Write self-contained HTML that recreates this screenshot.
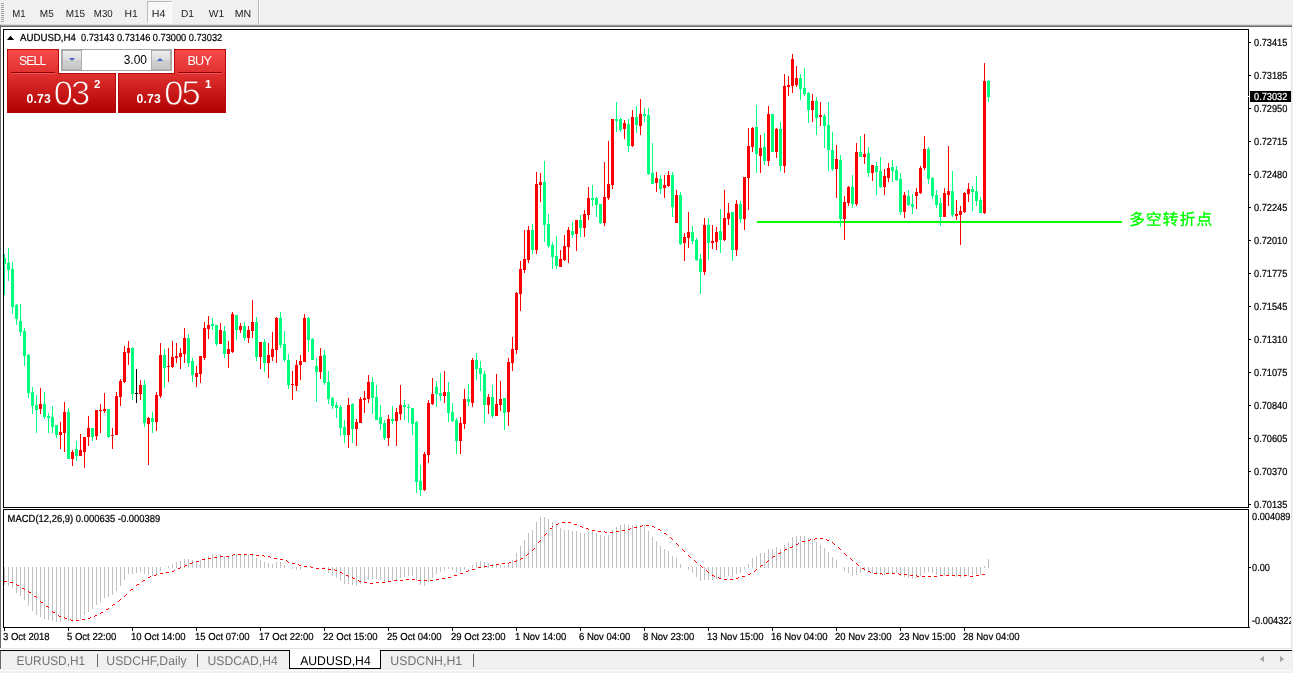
<!DOCTYPE html>
<html><head><meta charset="utf-8"><title>AUDUSD,H4</title>
<style>
html,body{margin:0;padding:0}
body{width:1293px;height:673px;overflow:hidden;background:#fff;font-family:"Liberation Sans","Noto Sans CJK SC",sans-serif;position:relative}
#tb{position:absolute;left:0;top:0;width:1293px;height:25px;background:#f0f0f0}
#tb i{position:absolute;left:1px;width:3px;height:1px;background:#a0a0a0}
.tf{position:absolute;top:8px;font-size:10px;line-height:12px;color:#222;letter-spacing:-0.3px}
#h4{position:absolute;left:147px;top:1px;width:25px;height:22px;border:1px solid #b9b9b9;border-bottom-color:#fdfdfd;border-right-color:#fdfdfd;background:#f7f7f7;box-sizing:border-box}
#sep{position:absolute;left:258px;top:0;width:1px;height:25px;background:#b8b8b8;border-right:1px solid #fff}
#edge{position:absolute;left:0;top:24px;width:1292px;height:3px;background:linear-gradient(#dcdcdc 0,#dcdcdc 33%,#a0a0a0 33%,#a0a0a0 66%,#696969 66%)}
#rgut{position:absolute;left:1292px;top:25px;width:1px;height:648px;background:#f0f0f0}
#ledge{position:absolute;left:0;top:25px;width:1px;height:623px;background:#696969}
#ledge2{position:absolute;left:0;top:651px;width:1px;height:18px;background:#696969}
#redge{position:absolute;left:1291px;top:27px;width:1px;height:621px;background:#e3e3e3}
#bot{position:absolute;left:0;top:648px;width:1293px;height:25px;background:#f0f0f0;border-top:1px solid #e3e3e3;box-sizing:border-box}
#botline{position:absolute;left:0;top:650px;width:1293px;height:1px;background:#000}
#botw{position:absolute;left:0;top:649px;width:1293px;height:1px;background:#fff}
#bots{position:absolute;left:0;top:670px;width:1293px;height:1px;background:#fcfcfc}
.tab{position:absolute;top:654px;font-size:12px;line-height:14px;color:#757575;letter-spacing:-0.1px}
.tab.act{color:#000}
#atab{position:absolute;left:289px;top:650px;width:92px;height:19px;background:#fff;border:1px solid #000;border-top:none;box-sizing:border-box}
.vs{position:absolute;top:654px;width:1px;height:13px;background:#666}
.arr{position:absolute;top:655.5px;width:0;height:0;border-top:3.5px solid transparent;border-bottom:3.5px solid transparent}
svg text{font-family:"Liberation Sans","Noto Sans CJK SC",sans-serif;text-rendering:geometricPrecision}
.rp{position:absolute;background:linear-gradient(#f74a4a,#d82626 45%,#b00000);border:1px solid #b40808;box-sizing:border-box}
.rt{position:absolute;color:#fff;white-space:nowrap}
.big{top:72.5px;font-size:34.5px;line-height:40px;letter-spacing:-1.9px;-webkit-text-stroke:0.9px #c81a1a;margin-left:-0.8px;transform:scaleY(1.03);transform-origin:0 32.2px}
#spin{position:absolute;left:61px;top:49px;width:111px;height:22px;border:1px solid #a8a8a8;background:#fff;box-sizing:border-box}
.sb{position:absolute;top:0;width:20px;height:20px;background:linear-gradient(#ececec,#dcdcdc 50%,#cfcfcf 51%,#c8c8c8);border:1px solid #aeaeae;box-sizing:border-box}
</style></head><body>
<div id="tb"><i style="top:3px"></i><i style="top:5px"></i><i style="top:7px"></i><i style="top:9px"></i><i style="top:11px"></i><i style="top:13px"></i><i style="top:15px"></i><i style="top:17px"></i><i style="top:19px"></i><i style="top:21px"></i><div id="h4"></div><div id="sep"></div></div>
<div id="edge"></div><div id="ledge"></div><div id="redge"></div>
<svg width="1293" height="673" viewBox="0 0 1293 673" style="position:absolute;left:0;top:0">
<g shape-rendering="crispEdges">
<rect x="3.5" y="29.5" width="1245" height="478" fill="#fff" stroke="#000" stroke-width="1"/>
<rect x="3.5" y="509.5" width="1245" height="118" fill="#fff" stroke="#000" stroke-width="1"/>
<rect x="1249" y="42" width="2" height="1" fill="#000"/>
<rect x="1249" y="75" width="2" height="1" fill="#000"/>
<rect x="1249" y="108" width="2" height="1" fill="#000"/>
<rect x="1249" y="141" width="2" height="1" fill="#000"/>
<rect x="1249" y="174" width="2" height="1" fill="#000"/>
<rect x="1249" y="207" width="2" height="1" fill="#000"/>
<rect x="1249" y="240" width="2" height="1" fill="#000"/>
<rect x="1249" y="273" width="2" height="1" fill="#000"/>
<rect x="1249" y="306" width="2" height="1" fill="#000"/>
<rect x="1249" y="339" width="2" height="1" fill="#000"/>
<rect x="1249" y="372" width="2" height="1" fill="#000"/>
<rect x="1249" y="405" width="2" height="1" fill="#000"/>
<rect x="1249" y="438" width="2" height="1" fill="#000"/>
<rect x="1249" y="471" width="2" height="1" fill="#000"/>
<rect x="1249" y="504" width="2" height="1" fill="#000"/>
<rect x="1249" y="567" width="2" height="1" fill="#000"/>
<rect x="1249" y="627" width="1" height="1" fill="#000"/>
<rect x="4" y="628" width="1" height="3" fill="#000"/>
<rect x="68" y="628" width="1" height="3" fill="#000"/>
<rect x="132" y="628" width="1" height="3" fill="#000"/>
<rect x="196" y="628" width="1" height="3" fill="#000"/>
<rect x="260" y="628" width="1" height="3" fill="#000"/>
<rect x="324" y="628" width="1" height="3" fill="#000"/>
<rect x="388" y="628" width="1" height="3" fill="#000"/>
<rect x="452" y="628" width="1" height="3" fill="#000"/>
<rect x="516" y="628" width="1" height="3" fill="#000"/>
<rect x="580" y="628" width="1" height="3" fill="#000"/>
<rect x="644" y="628" width="1" height="3" fill="#000"/>
<rect x="708" y="628" width="1" height="3" fill="#000"/>
<rect x="772" y="628" width="1" height="3" fill="#000"/>
<rect x="836" y="628" width="1" height="3" fill="#000"/>
<rect x="900" y="628" width="1" height="3" fill="#000"/>
<rect x="964" y="628" width="1" height="3" fill="#000"/>
<rect x="4" y="567" width="1" height="18" fill="#c0c0c0"/>
<rect x="8" y="567" width="1" height="19" fill="#c0c0c0"/>
<rect x="12" y="567" width="1" height="21" fill="#c0c0c0"/>
<rect x="16" y="567" width="1" height="26" fill="#c0c0c0"/>
<rect x="20" y="567" width="1" height="29" fill="#c0c0c0"/>
<rect x="24" y="567" width="1" height="33" fill="#c0c0c0"/>
<rect x="28" y="567" width="1" height="39" fill="#c0c0c0"/>
<rect x="32" y="567" width="1" height="44" fill="#c0c0c0"/>
<rect x="36" y="567" width="1" height="48" fill="#c0c0c0"/>
<rect x="40" y="567" width="1" height="50" fill="#c0c0c0"/>
<rect x="44" y="567" width="1" height="52" fill="#c0c0c0"/>
<rect x="48" y="567" width="1" height="53" fill="#c0c0c0"/>
<rect x="52" y="567" width="1" height="54" fill="#c0c0c0"/>
<rect x="56" y="567" width="1" height="55" fill="#c0c0c0"/>
<rect x="60" y="567" width="1" height="55" fill="#c0c0c0"/>
<rect x="64" y="567" width="1" height="53" fill="#c0c0c0"/>
<rect x="68" y="567" width="1" height="54" fill="#c0c0c0"/>
<rect x="72" y="567" width="1" height="55" fill="#c0c0c0"/>
<rect x="76" y="567" width="1" height="54" fill="#c0c0c0"/>
<rect x="80" y="567" width="1" height="52" fill="#c0c0c0"/>
<rect x="84" y="567" width="1" height="48" fill="#c0c0c0"/>
<rect x="88" y="567" width="1" height="45" fill="#c0c0c0"/>
<rect x="92" y="567" width="1" height="42" fill="#c0c0c0"/>
<rect x="96" y="567" width="1" height="38" fill="#c0c0c0"/>
<rect x="100" y="567" width="1" height="35" fill="#c0c0c0"/>
<rect x="104" y="567" width="1" height="31" fill="#c0c0c0"/>
<rect x="108" y="567" width="1" height="30" fill="#c0c0c0"/>
<rect x="112" y="567" width="1" height="28" fill="#c0c0c0"/>
<rect x="116" y="567" width="1" height="24" fill="#c0c0c0"/>
<rect x="120" y="567" width="1" height="19" fill="#c0c0c0"/>
<rect x="124" y="567" width="1" height="13" fill="#c0c0c0"/>
<rect x="128" y="567" width="1" height="7" fill="#c0c0c0"/>
<rect x="132" y="567" width="1" height="7" fill="#c0c0c0"/>
<rect x="136" y="567" width="1" height="6" fill="#c0c0c0"/>
<rect x="140" y="567" width="1" height="5" fill="#c0c0c0"/>
<rect x="144" y="567" width="1" height="7" fill="#c0c0c0"/>
<rect x="148" y="567" width="1" height="8" fill="#c0c0c0"/>
<rect x="152" y="567" width="1" height="9" fill="#c0c0c0"/>
<rect x="156" y="567" width="1" height="7" fill="#c0c0c0"/>
<rect x="160" y="567" width="1" height="4" fill="#c0c0c0"/>
<rect x="168" y="566" width="1" height="2" fill="#c0c0c0"/>
<rect x="172" y="564" width="1" height="4" fill="#c0c0c0"/>
<rect x="176" y="562" width="1" height="6" fill="#c0c0c0"/>
<rect x="180" y="561" width="1" height="7" fill="#c0c0c0"/>
<rect x="184" y="559" width="1" height="9" fill="#c0c0c0"/>
<rect x="188" y="559" width="1" height="9" fill="#c0c0c0"/>
<rect x="192" y="560" width="1" height="8" fill="#c0c0c0"/>
<rect x="196" y="561" width="1" height="7" fill="#c0c0c0"/>
<rect x="200" y="560" width="1" height="8" fill="#c0c0c0"/>
<rect x="204" y="558" width="1" height="10" fill="#c0c0c0"/>
<rect x="208" y="556" width="1" height="12" fill="#c0c0c0"/>
<rect x="212" y="554" width="1" height="14" fill="#c0c0c0"/>
<rect x="216" y="555" width="1" height="13" fill="#c0c0c0"/>
<rect x="220" y="554" width="1" height="14" fill="#c0c0c0"/>
<rect x="224" y="556" width="1" height="12" fill="#c0c0c0"/>
<rect x="228" y="557" width="1" height="11" fill="#c0c0c0"/>
<rect x="232" y="555" width="1" height="13" fill="#c0c0c0"/>
<rect x="236" y="554" width="1" height="14" fill="#c0c0c0"/>
<rect x="240" y="555" width="1" height="13" fill="#c0c0c0"/>
<rect x="244" y="555" width="1" height="13" fill="#c0c0c0"/>
<rect x="248" y="555" width="1" height="13" fill="#c0c0c0"/>
<rect x="252" y="555" width="1" height="13" fill="#c0c0c0"/>
<rect x="256" y="558" width="1" height="10" fill="#c0c0c0"/>
<rect x="260" y="560" width="1" height="8" fill="#c0c0c0"/>
<rect x="264" y="562" width="1" height="6" fill="#c0c0c0"/>
<rect x="268" y="563" width="1" height="5" fill="#c0c0c0"/>
<rect x="272" y="564" width="1" height="4" fill="#c0c0c0"/>
<rect x="276" y="562" width="1" height="6" fill="#c0c0c0"/>
<rect x="280" y="562" width="1" height="6" fill="#c0c0c0"/>
<rect x="284" y="565" width="1" height="3" fill="#c0c0c0"/>
<rect x="292" y="567" width="1" height="2" fill="#c0c0c0"/>
<rect x="296" y="567" width="1" height="3" fill="#c0c0c0"/>
<rect x="300" y="567" width="1" height="3" fill="#c0c0c0"/>
<rect x="324" y="567" width="1" height="2" fill="#c0c0c0"/>
<rect x="328" y="567" width="1" height="6" fill="#c0c0c0"/>
<rect x="332" y="567" width="1" height="9" fill="#c0c0c0"/>
<rect x="336" y="567" width="1" height="11" fill="#c0c0c0"/>
<rect x="340" y="567" width="1" height="14" fill="#c0c0c0"/>
<rect x="344" y="567" width="1" height="17" fill="#c0c0c0"/>
<rect x="348" y="567" width="1" height="17" fill="#c0c0c0"/>
<rect x="352" y="567" width="1" height="18" fill="#c0c0c0"/>
<rect x="356" y="567" width="1" height="19" fill="#c0c0c0"/>
<rect x="360" y="567" width="1" height="17" fill="#c0c0c0"/>
<rect x="364" y="567" width="1" height="15" fill="#c0c0c0"/>
<rect x="368" y="567" width="1" height="13" fill="#c0c0c0"/>
<rect x="372" y="567" width="1" height="12" fill="#c0c0c0"/>
<rect x="376" y="567" width="1" height="12" fill="#c0c0c0"/>
<rect x="380" y="567" width="1" height="13" fill="#c0c0c0"/>
<rect x="384" y="567" width="1" height="15" fill="#c0c0c0"/>
<rect x="388" y="567" width="1" height="15" fill="#c0c0c0"/>
<rect x="392" y="567" width="1" height="14" fill="#c0c0c0"/>
<rect x="396" y="567" width="1" height="13" fill="#c0c0c0"/>
<rect x="400" y="567" width="1" height="11" fill="#c0c0c0"/>
<rect x="404" y="567" width="1" height="10" fill="#c0c0c0"/>
<rect x="408" y="567" width="1" height="9" fill="#c0c0c0"/>
<rect x="412" y="567" width="1" height="9" fill="#c0c0c0"/>
<rect x="416" y="567" width="1" height="14" fill="#c0c0c0"/>
<rect x="420" y="567" width="1" height="18" fill="#c0c0c0"/>
<rect x="424" y="567" width="1" height="19" fill="#c0c0c0"/>
<rect x="428" y="567" width="1" height="15" fill="#c0c0c0"/>
<rect x="432" y="567" width="1" height="11" fill="#c0c0c0"/>
<rect x="436" y="567" width="1" height="7" fill="#c0c0c0"/>
<rect x="440" y="567" width="1" height="5" fill="#c0c0c0"/>
<rect x="444" y="567" width="1" height="3" fill="#c0c0c0"/>
<rect x="448" y="567" width="1" height="2" fill="#c0c0c0"/>
<rect x="452" y="567" width="1" height="3" fill="#c0c0c0"/>
<rect x="456" y="567" width="1" height="5" fill="#c0c0c0"/>
<rect x="460" y="567" width="1" height="5" fill="#c0c0c0"/>
<rect x="464" y="567" width="1" height="3" fill="#c0c0c0"/>
<rect x="472" y="565" width="1" height="3" fill="#c0c0c0"/>
<rect x="476" y="562" width="1" height="6" fill="#c0c0c0"/>
<rect x="480" y="561" width="1" height="7" fill="#c0c0c0"/>
<rect x="484" y="562" width="1" height="6" fill="#c0c0c0"/>
<rect x="488" y="563" width="1" height="5" fill="#c0c0c0"/>
<rect x="492" y="564" width="1" height="4" fill="#c0c0c0"/>
<rect x="496" y="565" width="1" height="3" fill="#c0c0c0"/>
<rect x="500" y="565" width="1" height="3" fill="#c0c0c0"/>
<rect x="504" y="566" width="1" height="2" fill="#c0c0c0"/>
<rect x="508" y="563" width="1" height="5" fill="#c0c0c0"/>
<rect x="512" y="560" width="1" height="8" fill="#c0c0c0"/>
<rect x="516" y="553" width="1" height="15" fill="#c0c0c0"/>
<rect x="520" y="546" width="1" height="22" fill="#c0c0c0"/>
<rect x="524" y="540" width="1" height="28" fill="#c0c0c0"/>
<rect x="528" y="533" width="1" height="35" fill="#c0c0c0"/>
<rect x="532" y="530" width="1" height="38" fill="#c0c0c0"/>
<rect x="536" y="522" width="1" height="46" fill="#c0c0c0"/>
<rect x="540" y="517" width="1" height="51" fill="#c0c0c0"/>
<rect x="544" y="517" width="1" height="51" fill="#c0c0c0"/>
<rect x="548" y="519" width="1" height="49" fill="#c0c0c0"/>
<rect x="552" y="522" width="1" height="46" fill="#c0c0c0"/>
<rect x="556" y="525" width="1" height="43" fill="#c0c0c0"/>
<rect x="560" y="528" width="1" height="40" fill="#c0c0c0"/>
<rect x="564" y="530" width="1" height="38" fill="#c0c0c0"/>
<rect x="568" y="530" width="1" height="38" fill="#c0c0c0"/>
<rect x="572" y="531" width="1" height="37" fill="#c0c0c0"/>
<rect x="576" y="531" width="1" height="37" fill="#c0c0c0"/>
<rect x="580" y="533" width="1" height="35" fill="#c0c0c0"/>
<rect x="584" y="533" width="1" height="35" fill="#c0c0c0"/>
<rect x="588" y="532" width="1" height="36" fill="#c0c0c0"/>
<rect x="592" y="531" width="1" height="37" fill="#c0c0c0"/>
<rect x="596" y="533" width="1" height="35" fill="#c0c0c0"/>
<rect x="600" y="535" width="1" height="33" fill="#c0c0c0"/>
<rect x="604" y="536" width="1" height="32" fill="#c0c0c0"/>
<rect x="608" y="535" width="1" height="33" fill="#c0c0c0"/>
<rect x="612" y="530" width="1" height="38" fill="#c0c0c0"/>
<rect x="616" y="527" width="1" height="41" fill="#c0c0c0"/>
<rect x="620" y="525" width="1" height="43" fill="#c0c0c0"/>
<rect x="624" y="524" width="1" height="44" fill="#c0c0c0"/>
<rect x="628" y="525" width="1" height="43" fill="#c0c0c0"/>
<rect x="632" y="525" width="1" height="43" fill="#c0c0c0"/>
<rect x="636" y="525" width="1" height="43" fill="#c0c0c0"/>
<rect x="640" y="525" width="1" height="43" fill="#c0c0c0"/>
<rect x="644" y="525" width="1" height="43" fill="#c0c0c0"/>
<rect x="648" y="531" width="1" height="37" fill="#c0c0c0"/>
<rect x="652" y="537" width="1" height="31" fill="#c0c0c0"/>
<rect x="656" y="541" width="1" height="27" fill="#c0c0c0"/>
<rect x="660" y="546" width="1" height="22" fill="#c0c0c0"/>
<rect x="664" y="549" width="1" height="19" fill="#c0c0c0"/>
<rect x="668" y="551" width="1" height="17" fill="#c0c0c0"/>
<rect x="672" y="556" width="1" height="12" fill="#c0c0c0"/>
<rect x="676" y="558" width="1" height="10" fill="#c0c0c0"/>
<rect x="680" y="564" width="1" height="4" fill="#c0c0c0"/>
<rect x="688" y="567" width="1" height="3" fill="#c0c0c0"/>
<rect x="692" y="567" width="1" height="6" fill="#c0c0c0"/>
<rect x="696" y="567" width="1" height="10" fill="#c0c0c0"/>
<rect x="700" y="567" width="1" height="14" fill="#c0c0c0"/>
<rect x="704" y="567" width="1" height="13" fill="#c0c0c0"/>
<rect x="708" y="567" width="1" height="13" fill="#c0c0c0"/>
<rect x="712" y="567" width="1" height="13" fill="#c0c0c0"/>
<rect x="716" y="567" width="1" height="12" fill="#c0c0c0"/>
<rect x="720" y="567" width="1" height="11" fill="#c0c0c0"/>
<rect x="724" y="567" width="1" height="10" fill="#c0c0c0"/>
<rect x="728" y="567" width="1" height="9" fill="#c0c0c0"/>
<rect x="732" y="567" width="1" height="10" fill="#c0c0c0"/>
<rect x="736" y="567" width="1" height="7" fill="#c0c0c0"/>
<rect x="740" y="567" width="1" height="6" fill="#c0c0c0"/>
<rect x="744" y="567" width="1" height="2" fill="#c0c0c0"/>
<rect x="748" y="564" width="1" height="4" fill="#c0c0c0"/>
<rect x="752" y="558" width="1" height="10" fill="#c0c0c0"/>
<rect x="756" y="556" width="1" height="12" fill="#c0c0c0"/>
<rect x="760" y="553" width="1" height="15" fill="#c0c0c0"/>
<rect x="764" y="553" width="1" height="15" fill="#c0c0c0"/>
<rect x="768" y="549" width="1" height="19" fill="#c0c0c0"/>
<rect x="772" y="549" width="1" height="19" fill="#c0c0c0"/>
<rect x="776" y="547" width="1" height="21" fill="#c0c0c0"/>
<rect x="780" y="549" width="1" height="19" fill="#c0c0c0"/>
<rect x="784" y="545" width="1" height="23" fill="#c0c0c0"/>
<rect x="788" y="542" width="1" height="26" fill="#c0c0c0"/>
<rect x="792" y="537" width="1" height="31" fill="#c0c0c0"/>
<rect x="796" y="536" width="1" height="32" fill="#c0c0c0"/>
<rect x="800" y="536" width="1" height="32" fill="#c0c0c0"/>
<rect x="804" y="536" width="1" height="32" fill="#c0c0c0"/>
<rect x="808" y="538" width="1" height="30" fill="#c0c0c0"/>
<rect x="812" y="539" width="1" height="29" fill="#c0c0c0"/>
<rect x="816" y="542" width="1" height="26" fill="#c0c0c0"/>
<rect x="820" y="545" width="1" height="23" fill="#c0c0c0"/>
<rect x="824" y="548" width="1" height="20" fill="#c0c0c0"/>
<rect x="828" y="552" width="1" height="16" fill="#c0c0c0"/>
<rect x="832" y="557" width="1" height="11" fill="#c0c0c0"/>
<rect x="836" y="560" width="1" height="8" fill="#c0c0c0"/>
<rect x="844" y="567" width="1" height="4" fill="#c0c0c0"/>
<rect x="848" y="567" width="1" height="6" fill="#c0c0c0"/>
<rect x="852" y="567" width="1" height="9" fill="#c0c0c0"/>
<rect x="856" y="567" width="1" height="8" fill="#c0c0c0"/>
<rect x="860" y="567" width="1" height="6" fill="#c0c0c0"/>
<rect x="864" y="567" width="1" height="4" fill="#c0c0c0"/>
<rect x="868" y="567" width="1" height="6" fill="#c0c0c0"/>
<rect x="872" y="567" width="1" height="6" fill="#c0c0c0"/>
<rect x="876" y="567" width="1" height="7" fill="#c0c0c0"/>
<rect x="880" y="567" width="1" height="8" fill="#c0c0c0"/>
<rect x="884" y="567" width="1" height="8" fill="#c0c0c0"/>
<rect x="888" y="567" width="1" height="7" fill="#c0c0c0"/>
<rect x="892" y="567" width="1" height="6" fill="#c0c0c0"/>
<rect x="896" y="567" width="1" height="6" fill="#c0c0c0"/>
<rect x="900" y="567" width="1" height="9" fill="#c0c0c0"/>
<rect x="904" y="567" width="1" height="10" fill="#c0c0c0"/>
<rect x="908" y="567" width="1" height="11" fill="#c0c0c0"/>
<rect x="912" y="567" width="1" height="12" fill="#c0c0c0"/>
<rect x="916" y="567" width="1" height="11" fill="#c0c0c0"/>
<rect x="920" y="567" width="1" height="9" fill="#c0c0c0"/>
<rect x="924" y="567" width="1" height="6" fill="#c0c0c0"/>
<rect x="928" y="567" width="1" height="5" fill="#c0c0c0"/>
<rect x="932" y="567" width="1" height="6" fill="#c0c0c0"/>
<rect x="936" y="567" width="1" height="8" fill="#c0c0c0"/>
<rect x="940" y="567" width="1" height="9" fill="#c0c0c0"/>
<rect x="944" y="567" width="1" height="9" fill="#c0c0c0"/>
<rect x="948" y="567" width="1" height="8" fill="#c0c0c0"/>
<rect x="952" y="567" width="1" height="9" fill="#c0c0c0"/>
<rect x="956" y="567" width="1" height="10" fill="#c0c0c0"/>
<rect x="960" y="567" width="1" height="11" fill="#c0c0c0"/>
<rect x="964" y="567" width="1" height="10" fill="#c0c0c0"/>
<rect x="968" y="567" width="1" height="9" fill="#c0c0c0"/>
<rect x="972" y="567" width="1" height="8" fill="#c0c0c0"/>
<rect x="976" y="567" width="1" height="7" fill="#c0c0c0"/>
<rect x="980" y="567" width="1" height="8" fill="#c0c0c0"/>
<rect x="984" y="566" width="1" height="2" fill="#c0c0c0"/>
<rect x="988" y="559" width="1" height="9" fill="#c0c0c0"/>
<clipPath id="cp"><rect x="4" y="30" width="1244" height="477"/></clipPath><g clip-path="url(#cp)">
<rect x="757" y="221" width="365" height="2" fill="#00ff00"/>
<rect x="4" y="254" width="1" height="41" fill="#00ff7f"/>
<rect x="3" y="258" width="3" height="6" fill="#00ff7f"/>
<rect x="8" y="248" width="1" height="33" fill="#00ff7f"/>
<rect x="7" y="263" width="3" height="7" fill="#00ff7f"/>
<rect x="12" y="262" width="1" height="52" fill="#00ff7f"/>
<rect x="11" y="269" width="3" height="38" fill="#00ff7f"/>
<rect x="16" y="304" width="1" height="21" fill="#00ff7f"/>
<rect x="15" y="305" width="3" height="14" fill="#00ff7f"/>
<rect x="20" y="304" width="1" height="32" fill="#00ff7f"/>
<rect x="19" y="321" width="3" height="11" fill="#00ff7f"/>
<rect x="24" y="328" width="1" height="38" fill="#00ff7f"/>
<rect x="23" y="331" width="3" height="25" fill="#00ff7f"/>
<rect x="28" y="354" width="1" height="44" fill="#00ff7f"/>
<rect x="27" y="355" width="3" height="38" fill="#00ff7f"/>
<rect x="32" y="387" width="1" height="27" fill="#00ff7f"/>
<rect x="31" y="392" width="3" height="14" fill="#00ff7f"/>
<rect x="36" y="395" width="1" height="38" fill="#00ff7f"/>
<rect x="35" y="405" width="3" height="5" fill="#00ff7f"/>
<rect x="40" y="388" width="1" height="26" fill="#ff0000"/>
<rect x="39" y="404" width="3" height="5" fill="#ff0000"/>
<rect x="44" y="392" width="1" height="27" fill="#00ff7f"/>
<rect x="43" y="404" width="3" height="13" fill="#00ff7f"/>
<rect x="48" y="413" width="1" height="20" fill="#00ff7f"/>
<rect x="47" y="416" width="3" height="2" fill="#00ff7f"/>
<rect x="52" y="406" width="1" height="27" fill="#00ff7f"/>
<rect x="51" y="417" width="3" height="10" fill="#00ff7f"/>
<rect x="56" y="425" width="1" height="13" fill="#00ff7f"/>
<rect x="55" y="425" width="3" height="10" fill="#00ff7f"/>
<rect x="60" y="422" width="1" height="27" fill="#ff0000"/>
<rect x="59" y="432" width="3" height="3" fill="#ff0000"/>
<rect x="64" y="402" width="1" height="50" fill="#ff0000"/>
<rect x="63" y="412" width="3" height="21" fill="#ff0000"/>
<rect x="68" y="408" width="1" height="51" fill="#00ff7f"/>
<rect x="67" y="412" width="3" height="47" fill="#00ff7f"/>
<rect x="72" y="450" width="1" height="16" fill="#ff0000"/>
<rect x="71" y="452" width="3" height="7" fill="#ff0000"/>
<rect x="76" y="441" width="1" height="20" fill="#00ff7f"/>
<rect x="75" y="449" width="3" height="7" fill="#00ff7f"/>
<rect x="80" y="434" width="1" height="22" fill="#ff0000"/>
<rect x="79" y="450" width="3" height="6" fill="#ff0000"/>
<rect x="84" y="437" width="1" height="31" fill="#ff0000"/>
<rect x="83" y="437" width="3" height="15" fill="#ff0000"/>
<rect x="88" y="416" width="1" height="30" fill="#ff0000"/>
<rect x="87" y="428" width="3" height="9" fill="#ff0000"/>
<rect x="92" y="428" width="1" height="13" fill="#00ff7f"/>
<rect x="91" y="428" width="3" height="9" fill="#00ff7f"/>
<rect x="96" y="410" width="1" height="30" fill="#ff0000"/>
<rect x="95" y="410" width="3" height="26" fill="#ff0000"/>
<rect x="100" y="404" width="1" height="29" fill="#ff0000"/>
<rect x="99" y="410" width="3" height="1" fill="#ff0000"/>
<rect x="104" y="393" width="1" height="20" fill="#ff0000"/>
<rect x="103" y="409" width="3" height="2" fill="#ff0000"/>
<rect x="108" y="409" width="1" height="29" fill="#00ff7f"/>
<rect x="107" y="409" width="3" height="28" fill="#00ff7f"/>
<rect x="112" y="428" width="1" height="21" fill="#ff0000"/>
<rect x="111" y="435" width="3" height="1" fill="#ff0000"/>
<rect x="116" y="392" width="1" height="43" fill="#ff0000"/>
<rect x="115" y="396" width="3" height="39" fill="#ff0000"/>
<rect x="120" y="379" width="1" height="27" fill="#ff0000"/>
<rect x="119" y="381" width="3" height="16" fill="#ff0000"/>
<rect x="124" y="346" width="1" height="37" fill="#ff0000"/>
<rect x="123" y="352" width="3" height="30" fill="#ff0000"/>
<rect x="128" y="341" width="1" height="24" fill="#ff0000"/>
<rect x="127" y="348" width="3" height="5" fill="#ff0000"/>
<rect x="132" y="347" width="1" height="53" fill="#00ff7f"/>
<rect x="131" y="348" width="3" height="46" fill="#00ff7f"/>
<rect x="136" y="369" width="1" height="34" fill="#000"/>
<rect x="135" y="393" width="3" height="1" fill="#000"/>
<rect x="140" y="380" width="1" height="20" fill="#ff0000"/>
<rect x="139" y="385" width="3" height="9" fill="#ff0000"/>
<rect x="144" y="380" width="1" height="47" fill="#00ff7f"/>
<rect x="143" y="385" width="3" height="38" fill="#00ff7f"/>
<rect x="148" y="417" width="1" height="48" fill="#ff0000"/>
<rect x="147" y="418" width="3" height="6" fill="#ff0000"/>
<rect x="152" y="412" width="1" height="21" fill="#00ff7f"/>
<rect x="151" y="418" width="3" height="4" fill="#00ff7f"/>
<rect x="156" y="392" width="1" height="39" fill="#ff0000"/>
<rect x="155" y="395" width="3" height="27" fill="#ff0000"/>
<rect x="160" y="343" width="1" height="55" fill="#ff0000"/>
<rect x="159" y="355" width="3" height="41" fill="#ff0000"/>
<rect x="164" y="349" width="1" height="39" fill="#00ff7f"/>
<rect x="163" y="355" width="3" height="13" fill="#00ff7f"/>
<rect x="168" y="348" width="1" height="34" fill="#ff0000"/>
<rect x="167" y="366" width="3" height="1" fill="#ff0000"/>
<rect x="172" y="341" width="1" height="27" fill="#ff0000"/>
<rect x="171" y="357" width="3" height="10" fill="#ff0000"/>
<rect x="176" y="343" width="1" height="20" fill="#ff0000"/>
<rect x="175" y="356" width="3" height="2" fill="#ff0000"/>
<rect x="180" y="348" width="1" height="21" fill="#ff0000"/>
<rect x="179" y="353" width="3" height="4" fill="#ff0000"/>
<rect x="184" y="328" width="1" height="35" fill="#ff0000"/>
<rect x="183" y="338" width="3" height="16" fill="#ff0000"/>
<rect x="188" y="334" width="1" height="33" fill="#00ff7f"/>
<rect x="187" y="338" width="3" height="25" fill="#00ff7f"/>
<rect x="192" y="358" width="1" height="24" fill="#00ff7f"/>
<rect x="191" y="361" width="3" height="14" fill="#00ff7f"/>
<rect x="196" y="366" width="1" height="21" fill="#ff0000"/>
<rect x="195" y="373" width="3" height="4" fill="#ff0000"/>
<rect x="200" y="356" width="1" height="27" fill="#ff0000"/>
<rect x="199" y="356" width="3" height="18" fill="#ff0000"/>
<rect x="204" y="322" width="1" height="38" fill="#ff0000"/>
<rect x="203" y="328" width="3" height="30" fill="#ff0000"/>
<rect x="208" y="316" width="1" height="23" fill="#ff0000"/>
<rect x="207" y="325" width="3" height="4" fill="#ff0000"/>
<rect x="212" y="318" width="1" height="12" fill="#00ff7f"/>
<rect x="211" y="324" width="3" height="2" fill="#00ff7f"/>
<rect x="216" y="325" width="1" height="21" fill="#00ff7f"/>
<rect x="215" y="325" width="3" height="19" fill="#00ff7f"/>
<rect x="220" y="323" width="1" height="21" fill="#ff0000"/>
<rect x="219" y="330" width="3" height="14" fill="#ff0000"/>
<rect x="224" y="326" width="1" height="32" fill="#00ff7f"/>
<rect x="223" y="331" width="3" height="23" fill="#00ff7f"/>
<rect x="228" y="341" width="1" height="27" fill="#ff0000"/>
<rect x="227" y="349" width="3" height="5" fill="#ff0000"/>
<rect x="232" y="312" width="1" height="41" fill="#ff0000"/>
<rect x="231" y="314" width="3" height="38" fill="#ff0000"/>
<rect x="236" y="315" width="1" height="25" fill="#00ff7f"/>
<rect x="235" y="315" width="3" height="15" fill="#00ff7f"/>
<rect x="240" y="323" width="1" height="10" fill="#ff0000"/>
<rect x="239" y="326" width="3" height="4" fill="#ff0000"/>
<rect x="244" y="322" width="1" height="19" fill="#00ff7f"/>
<rect x="243" y="326" width="3" height="12" fill="#00ff7f"/>
<rect x="248" y="326" width="1" height="17" fill="#ff0000"/>
<rect x="247" y="330" width="3" height="8" fill="#ff0000"/>
<rect x="252" y="300" width="1" height="38" fill="#ff0000"/>
<rect x="251" y="322" width="3" height="9" fill="#ff0000"/>
<rect x="256" y="317" width="1" height="44" fill="#00ff7f"/>
<rect x="255" y="322" width="3" height="35" fill="#00ff7f"/>
<rect x="260" y="342" width="1" height="27" fill="#ff0000"/>
<rect x="259" y="342" width="3" height="15" fill="#ff0000"/>
<rect x="264" y="339" width="1" height="33" fill="#00ff7f"/>
<rect x="263" y="342" width="3" height="21" fill="#00ff7f"/>
<rect x="268" y="343" width="1" height="35" fill="#ff0000"/>
<rect x="267" y="355" width="3" height="8" fill="#ff0000"/>
<rect x="272" y="332" width="1" height="29" fill="#ff0000"/>
<rect x="271" y="349" width="3" height="8" fill="#ff0000"/>
<rect x="276" y="317" width="1" height="46" fill="#ff0000"/>
<rect x="275" y="318" width="3" height="32" fill="#ff0000"/>
<rect x="280" y="312" width="1" height="36" fill="#00ff7f"/>
<rect x="279" y="318" width="3" height="27" fill="#00ff7f"/>
<rect x="284" y="331" width="1" height="31" fill="#00ff7f"/>
<rect x="283" y="344" width="3" height="16" fill="#00ff7f"/>
<rect x="288" y="354" width="1" height="35" fill="#00ff7f"/>
<rect x="287" y="360" width="3" height="25" fill="#00ff7f"/>
<rect x="292" y="371" width="1" height="29" fill="#ff0000"/>
<rect x="291" y="384" width="3" height="1" fill="#ff0000"/>
<rect x="296" y="360" width="1" height="31" fill="#ff0000"/>
<rect x="295" y="365" width="3" height="21" fill="#ff0000"/>
<rect x="300" y="355" width="1" height="25" fill="#ff0000"/>
<rect x="299" y="361" width="3" height="4" fill="#ff0000"/>
<rect x="304" y="314" width="1" height="48" fill="#ff0000"/>
<rect x="303" y="318" width="3" height="44" fill="#ff0000"/>
<rect x="308" y="317" width="1" height="35" fill="#00ff7f"/>
<rect x="307" y="318" width="3" height="22" fill="#00ff7f"/>
<rect x="312" y="338" width="1" height="22" fill="#00ff7f"/>
<rect x="311" y="339" width="3" height="21" fill="#00ff7f"/>
<rect x="316" y="358" width="1" height="44" fill="#00ff7f"/>
<rect x="315" y="366" width="3" height="6" fill="#00ff7f"/>
<rect x="320" y="348" width="1" height="31" fill="#ff0000"/>
<rect x="319" y="356" width="3" height="16" fill="#ff0000"/>
<rect x="324" y="350" width="1" height="35" fill="#00ff7f"/>
<rect x="323" y="355" width="3" height="28" fill="#00ff7f"/>
<rect x="328" y="371" width="1" height="33" fill="#00ff7f"/>
<rect x="327" y="382" width="3" height="17" fill="#00ff7f"/>
<rect x="332" y="397" width="1" height="12" fill="#00ff7f"/>
<rect x="331" y="398" width="3" height="8" fill="#00ff7f"/>
<rect x="336" y="402" width="1" height="16" fill="#00ff7f"/>
<rect x="335" y="405" width="3" height="3" fill="#00ff7f"/>
<rect x="340" y="405" width="1" height="31" fill="#00ff7f"/>
<rect x="339" y="407" width="3" height="21" fill="#00ff7f"/>
<rect x="344" y="420" width="1" height="23" fill="#00ff7f"/>
<rect x="343" y="427" width="3" height="8" fill="#00ff7f"/>
<rect x="348" y="398" width="1" height="50" fill="#ff0000"/>
<rect x="347" y="405" width="3" height="30" fill="#ff0000"/>
<rect x="352" y="403" width="1" height="40" fill="#00ff7f"/>
<rect x="351" y="404" width="3" height="25" fill="#00ff7f"/>
<rect x="356" y="419" width="1" height="27" fill="#ff0000"/>
<rect x="355" y="422" width="3" height="7" fill="#ff0000"/>
<rect x="360" y="397" width="1" height="26" fill="#ff0000"/>
<rect x="359" y="399" width="3" height="24" fill="#ff0000"/>
<rect x="364" y="391" width="1" height="22" fill="#ff0000"/>
<rect x="363" y="398" width="3" height="2" fill="#ff0000"/>
<rect x="368" y="375" width="1" height="28" fill="#ff0000"/>
<rect x="367" y="382" width="3" height="17" fill="#ff0000"/>
<rect x="372" y="377" width="1" height="37" fill="#00ff7f"/>
<rect x="371" y="382" width="3" height="16" fill="#00ff7f"/>
<rect x="376" y="385" width="1" height="35" fill="#00ff7f"/>
<rect x="375" y="397" width="3" height="23" fill="#00ff7f"/>
<rect x="380" y="405" width="1" height="25" fill="#00ff7f"/>
<rect x="379" y="417" width="3" height="7" fill="#00ff7f"/>
<rect x="384" y="420" width="1" height="20" fill="#00ff7f"/>
<rect x="383" y="423" width="3" height="15" fill="#00ff7f"/>
<rect x="388" y="415" width="1" height="31" fill="#ff0000"/>
<rect x="387" y="419" width="3" height="19" fill="#ff0000"/>
<rect x="392" y="406" width="1" height="18" fill="#00ff7f"/>
<rect x="391" y="419" width="3" height="2" fill="#00ff7f"/>
<rect x="396" y="408" width="1" height="38" fill="#ff0000"/>
<rect x="395" y="412" width="3" height="9" fill="#ff0000"/>
<rect x="400" y="385" width="1" height="35" fill="#ff0000"/>
<rect x="399" y="405" width="3" height="9" fill="#ff0000"/>
<rect x="404" y="400" width="1" height="20" fill="#00ff7f"/>
<rect x="403" y="405" width="3" height="2" fill="#00ff7f"/>
<rect x="408" y="404" width="1" height="19" fill="#00ff7f"/>
<rect x="407" y="407" width="3" height="1" fill="#00ff7f"/>
<rect x="412" y="408" width="1" height="27" fill="#00ff7f"/>
<rect x="411" y="408" width="3" height="16" fill="#00ff7f"/>
<rect x="416" y="421" width="1" height="72" fill="#00ff7f"/>
<rect x="415" y="422" width="3" height="60" fill="#00ff7f"/>
<rect x="420" y="465" width="1" height="31" fill="#00ff7f"/>
<rect x="419" y="481" width="3" height="9" fill="#00ff7f"/>
<rect x="424" y="452" width="1" height="39" fill="#ff0000"/>
<rect x="423" y="454" width="3" height="36" fill="#ff0000"/>
<rect x="428" y="400" width="1" height="63" fill="#ff0000"/>
<rect x="427" y="403" width="3" height="52" fill="#ff0000"/>
<rect x="432" y="378" width="1" height="27" fill="#ff0000"/>
<rect x="431" y="394" width="3" height="10" fill="#ff0000"/>
<rect x="436" y="381" width="1" height="26" fill="#00ff7f"/>
<rect x="435" y="387" width="3" height="7" fill="#00ff7f"/>
<rect x="440" y="373" width="1" height="28" fill="#00ff7f"/>
<rect x="439" y="393" width="3" height="3" fill="#00ff7f"/>
<rect x="444" y="371" width="1" height="32" fill="#ff0000"/>
<rect x="443" y="392" width="3" height="4" fill="#ff0000"/>
<rect x="448" y="382" width="1" height="40" fill="#00ff7f"/>
<rect x="447" y="392" width="3" height="21" fill="#00ff7f"/>
<rect x="452" y="403" width="1" height="19" fill="#00ff7f"/>
<rect x="451" y="412" width="3" height="9" fill="#00ff7f"/>
<rect x="456" y="418" width="1" height="36" fill="#00ff7f"/>
<rect x="455" y="420" width="3" height="21" fill="#00ff7f"/>
<rect x="460" y="417" width="1" height="37" fill="#ff0000"/>
<rect x="459" y="423" width="3" height="18" fill="#ff0000"/>
<rect x="464" y="389" width="1" height="40" fill="#ff0000"/>
<rect x="463" y="399" width="3" height="25" fill="#ff0000"/>
<rect x="468" y="384" width="1" height="22" fill="#00ff7f"/>
<rect x="467" y="399" width="3" height="3" fill="#00ff7f"/>
<rect x="472" y="358" width="1" height="49" fill="#ff0000"/>
<rect x="471" y="360" width="3" height="43" fill="#ff0000"/>
<rect x="476" y="353" width="1" height="27" fill="#00ff7f"/>
<rect x="475" y="360" width="3" height="9" fill="#00ff7f"/>
<rect x="480" y="361" width="1" height="30" fill="#00ff7f"/>
<rect x="479" y="368" width="3" height="6" fill="#00ff7f"/>
<rect x="484" y="371" width="1" height="52" fill="#00ff7f"/>
<rect x="483" y="374" width="3" height="31" fill="#00ff7f"/>
<rect x="488" y="394" width="1" height="20" fill="#ff0000"/>
<rect x="487" y="397" width="3" height="8" fill="#ff0000"/>
<rect x="492" y="385" width="1" height="33" fill="#00ff7f"/>
<rect x="491" y="397" width="3" height="19" fill="#00ff7f"/>
<rect x="496" y="374" width="1" height="42" fill="#ff0000"/>
<rect x="495" y="404" width="3" height="12" fill="#ff0000"/>
<rect x="500" y="381" width="1" height="30" fill="#ff0000"/>
<rect x="499" y="399" width="3" height="6" fill="#ff0000"/>
<rect x="504" y="398" width="1" height="32" fill="#00ff7f"/>
<rect x="503" y="398" width="3" height="15" fill="#00ff7f"/>
<rect x="508" y="358" width="1" height="68" fill="#ff0000"/>
<rect x="507" y="362" width="3" height="50" fill="#ff0000"/>
<rect x="512" y="337" width="1" height="34" fill="#ff0000"/>
<rect x="511" y="349" width="3" height="14" fill="#ff0000"/>
<rect x="516" y="292" width="1" height="62" fill="#ff0000"/>
<rect x="515" y="293" width="3" height="57" fill="#ff0000"/>
<rect x="520" y="261" width="1" height="50" fill="#ff0000"/>
<rect x="519" y="269" width="3" height="25" fill="#ff0000"/>
<rect x="524" y="230" width="1" height="43" fill="#ff0000"/>
<rect x="523" y="259" width="3" height="11" fill="#ff0000"/>
<rect x="528" y="226" width="1" height="37" fill="#ff0000"/>
<rect x="527" y="230" width="3" height="30" fill="#ff0000"/>
<rect x="532" y="224" width="1" height="30" fill="#00ff7f"/>
<rect x="531" y="230" width="3" height="20" fill="#00ff7f"/>
<rect x="536" y="172" width="1" height="82" fill="#ff0000"/>
<rect x="535" y="184" width="3" height="66" fill="#ff0000"/>
<rect x="540" y="173" width="1" height="29" fill="#ff0000"/>
<rect x="539" y="182" width="3" height="3" fill="#ff0000"/>
<rect x="544" y="161" width="1" height="81" fill="#00ff7f"/>
<rect x="543" y="182" width="3" height="43" fill="#00ff7f"/>
<rect x="548" y="214" width="1" height="34" fill="#00ff7f"/>
<rect x="547" y="224" width="3" height="22" fill="#00ff7f"/>
<rect x="552" y="242" width="1" height="27" fill="#00ff7f"/>
<rect x="551" y="245" width="3" height="12" fill="#00ff7f"/>
<rect x="556" y="236" width="1" height="33" fill="#00ff7f"/>
<rect x="555" y="256" width="3" height="10" fill="#00ff7f"/>
<rect x="560" y="250" width="1" height="17" fill="#ff0000"/>
<rect x="559" y="259" width="3" height="8" fill="#ff0000"/>
<rect x="564" y="235" width="1" height="26" fill="#ff0000"/>
<rect x="563" y="246" width="3" height="14" fill="#ff0000"/>
<rect x="568" y="227" width="1" height="36" fill="#ff0000"/>
<rect x="567" y="230" width="3" height="17" fill="#ff0000"/>
<rect x="572" y="222" width="1" height="16" fill="#00ff7f"/>
<rect x="571" y="231" width="3" height="4" fill="#00ff7f"/>
<rect x="576" y="220" width="1" height="31" fill="#ff0000"/>
<rect x="575" y="220" width="3" height="14" fill="#ff0000"/>
<rect x="580" y="215" width="1" height="22" fill="#00ff7f"/>
<rect x="579" y="220" width="3" height="8" fill="#00ff7f"/>
<rect x="584" y="210" width="1" height="27" fill="#ff0000"/>
<rect x="583" y="214" width="3" height="14" fill="#ff0000"/>
<rect x="588" y="187" width="1" height="33" fill="#ff0000"/>
<rect x="587" y="198" width="3" height="17" fill="#ff0000"/>
<rect x="592" y="185" width="1" height="21" fill="#00ff7f"/>
<rect x="591" y="198" width="3" height="2" fill="#00ff7f"/>
<rect x="596" y="197" width="1" height="20" fill="#00ff7f"/>
<rect x="595" y="198" width="3" height="7" fill="#00ff7f"/>
<rect x="600" y="204" width="1" height="20" fill="#00ff7f"/>
<rect x="599" y="204" width="3" height="19" fill="#00ff7f"/>
<rect x="604" y="162" width="1" height="64" fill="#ff0000"/>
<rect x="603" y="197" width="3" height="26" fill="#ff0000"/>
<rect x="608" y="141" width="1" height="59" fill="#ff0000"/>
<rect x="607" y="184" width="3" height="14" fill="#ff0000"/>
<rect x="612" y="119" width="1" height="70" fill="#ff0000"/>
<rect x="611" y="119" width="3" height="66" fill="#ff0000"/>
<rect x="616" y="102" width="1" height="30" fill="#00ff7f"/>
<rect x="615" y="119" width="3" height="2" fill="#00ff7f"/>
<rect x="620" y="118" width="1" height="14" fill="#00ff7f"/>
<rect x="619" y="119" width="3" height="11" fill="#00ff7f"/>
<rect x="624" y="120" width="1" height="19" fill="#ff0000"/>
<rect x="623" y="123" width="3" height="6" fill="#ff0000"/>
<rect x="628" y="119" width="1" height="33" fill="#00ff7f"/>
<rect x="627" y="124" width="3" height="22" fill="#00ff7f"/>
<rect x="632" y="110" width="1" height="37" fill="#ff0000"/>
<rect x="631" y="117" width="3" height="29" fill="#ff0000"/>
<rect x="636" y="106" width="1" height="27" fill="#00ff7f"/>
<rect x="635" y="117" width="3" height="8" fill="#00ff7f"/>
<rect x="640" y="99" width="1" height="36" fill="#ff0000"/>
<rect x="639" y="114" width="3" height="12" fill="#ff0000"/>
<rect x="644" y="108" width="1" height="14" fill="#00ff7f"/>
<rect x="643" y="114" width="3" height="2" fill="#00ff7f"/>
<rect x="648" y="108" width="1" height="67" fill="#00ff7f"/>
<rect x="647" y="115" width="3" height="59" fill="#00ff7f"/>
<rect x="652" y="143" width="1" height="41" fill="#00ff7f"/>
<rect x="651" y="173" width="3" height="11" fill="#00ff7f"/>
<rect x="656" y="172" width="1" height="20" fill="#ff0000"/>
<rect x="655" y="178" width="3" height="5" fill="#ff0000"/>
<rect x="660" y="175" width="1" height="19" fill="#00ff7f"/>
<rect x="659" y="179" width="3" height="10" fill="#00ff7f"/>
<rect x="664" y="175" width="1" height="23" fill="#ff0000"/>
<rect x="663" y="185" width="3" height="3" fill="#ff0000"/>
<rect x="668" y="171" width="1" height="16" fill="#ff0000"/>
<rect x="667" y="175" width="3" height="11" fill="#ff0000"/>
<rect x="672" y="172" width="1" height="45" fill="#00ff7f"/>
<rect x="671" y="175" width="3" height="32" fill="#00ff7f"/>
<rect x="676" y="190" width="1" height="33" fill="#ff0000"/>
<rect x="675" y="195" width="3" height="28" fill="#ff0000"/>
<rect x="680" y="192" width="1" height="53" fill="#00ff7f"/>
<rect x="679" y="195" width="3" height="49" fill="#00ff7f"/>
<rect x="684" y="233" width="1" height="28" fill="#ff0000"/>
<rect x="683" y="237" width="3" height="6" fill="#ff0000"/>
<rect x="688" y="212" width="1" height="36" fill="#ff0000"/>
<rect x="687" y="232" width="3" height="6" fill="#ff0000"/>
<rect x="692" y="226" width="1" height="18" fill="#00ff7f"/>
<rect x="691" y="232" width="3" height="9" fill="#00ff7f"/>
<rect x="696" y="238" width="1" height="23" fill="#00ff7f"/>
<rect x="695" y="240" width="3" height="20" fill="#00ff7f"/>
<rect x="700" y="254" width="1" height="40" fill="#00ff7f"/>
<rect x="699" y="259" width="3" height="13" fill="#00ff7f"/>
<rect x="704" y="218" width="1" height="57" fill="#ff0000"/>
<rect x="703" y="225" width="3" height="47" fill="#ff0000"/>
<rect x="708" y="218" width="1" height="42" fill="#00ff7f"/>
<rect x="707" y="225" width="3" height="18" fill="#00ff7f"/>
<rect x="712" y="225" width="1" height="24" fill="#ff0000"/>
<rect x="711" y="241" width="3" height="2" fill="#ff0000"/>
<rect x="716" y="227" width="1" height="23" fill="#ff0000"/>
<rect x="715" y="232" width="3" height="10" fill="#ff0000"/>
<rect x="720" y="209" width="1" height="44" fill="#00ff7f"/>
<rect x="719" y="231" width="3" height="9" fill="#00ff7f"/>
<rect x="724" y="190" width="1" height="51" fill="#ff0000"/>
<rect x="723" y="218" width="3" height="22" fill="#ff0000"/>
<rect x="728" y="203" width="1" height="22" fill="#ff0000"/>
<rect x="727" y="213" width="3" height="6" fill="#ff0000"/>
<rect x="732" y="212" width="1" height="49" fill="#00ff7f"/>
<rect x="731" y="212" width="3" height="38" fill="#00ff7f"/>
<rect x="736" y="200" width="1" height="56" fill="#ff0000"/>
<rect x="735" y="204" width="3" height="46" fill="#ff0000"/>
<rect x="740" y="201" width="1" height="22" fill="#00ff7f"/>
<rect x="739" y="204" width="3" height="15" fill="#00ff7f"/>
<rect x="744" y="177" width="1" height="53" fill="#ff0000"/>
<rect x="743" y="177" width="3" height="42" fill="#ff0000"/>
<rect x="748" y="128" width="1" height="82" fill="#ff0000"/>
<rect x="747" y="146" width="3" height="32" fill="#ff0000"/>
<rect x="752" y="127" width="1" height="25" fill="#ff0000"/>
<rect x="751" y="128" width="3" height="19" fill="#ff0000"/>
<rect x="756" y="105" width="1" height="68" fill="#00ff7f"/>
<rect x="755" y="127" width="3" height="27" fill="#00ff7f"/>
<rect x="760" y="135" width="1" height="38" fill="#ff0000"/>
<rect x="759" y="148" width="3" height="8" fill="#ff0000"/>
<rect x="764" y="133" width="1" height="32" fill="#00ff7f"/>
<rect x="763" y="147" width="3" height="14" fill="#00ff7f"/>
<rect x="768" y="106" width="1" height="60" fill="#ff0000"/>
<rect x="767" y="114" width="3" height="47" fill="#ff0000"/>
<rect x="772" y="114" width="1" height="38" fill="#00ff7f"/>
<rect x="771" y="114" width="3" height="38" fill="#00ff7f"/>
<rect x="776" y="128" width="1" height="30" fill="#ff0000"/>
<rect x="775" y="129" width="3" height="23" fill="#ff0000"/>
<rect x="780" y="122" width="1" height="49" fill="#00ff7f"/>
<rect x="779" y="129" width="3" height="37" fill="#00ff7f"/>
<rect x="784" y="74" width="1" height="99" fill="#ff0000"/>
<rect x="783" y="86" width="3" height="80" fill="#ff0000"/>
<rect x="788" y="76" width="1" height="20" fill="#ff0000"/>
<rect x="787" y="85" width="3" height="2" fill="#ff0000"/>
<rect x="792" y="54" width="1" height="39" fill="#ff0000"/>
<rect x="791" y="59" width="3" height="27" fill="#ff0000"/>
<rect x="796" y="66" width="1" height="21" fill="#ff0000"/>
<rect x="795" y="78" width="3" height="7" fill="#ff0000"/>
<rect x="800" y="74" width="1" height="26" fill="#00ff7f"/>
<rect x="799" y="78" width="3" height="11" fill="#00ff7f"/>
<rect x="804" y="68" width="1" height="28" fill="#00ff7f"/>
<rect x="803" y="88" width="3" height="6" fill="#00ff7f"/>
<rect x="808" y="92" width="1" height="31" fill="#00ff7f"/>
<rect x="807" y="93" width="3" height="17" fill="#00ff7f"/>
<rect x="812" y="94" width="1" height="28" fill="#ff0000"/>
<rect x="811" y="101" width="3" height="9" fill="#ff0000"/>
<rect x="816" y="97" width="1" height="38" fill="#00ff7f"/>
<rect x="815" y="101" width="3" height="17" fill="#00ff7f"/>
<rect x="820" y="102" width="1" height="24" fill="#ff0000"/>
<rect x="819" y="115" width="3" height="2" fill="#ff0000"/>
<rect x="824" y="114" width="1" height="34" fill="#00ff7f"/>
<rect x="823" y="116" width="3" height="10" fill="#00ff7f"/>
<rect x="828" y="102" width="1" height="69" fill="#00ff7f"/>
<rect x="827" y="125" width="3" height="25" fill="#00ff7f"/>
<rect x="832" y="132" width="1" height="39" fill="#00ff7f"/>
<rect x="831" y="150" width="3" height="19" fill="#00ff7f"/>
<rect x="836" y="145" width="1" height="53" fill="#ff0000"/>
<rect x="835" y="159" width="3" height="10" fill="#ff0000"/>
<rect x="840" y="155" width="1" height="72" fill="#00ff7f"/>
<rect x="839" y="160" width="3" height="59" fill="#00ff7f"/>
<rect x="844" y="196" width="1" height="44" fill="#ff0000"/>
<rect x="843" y="202" width="3" height="17" fill="#ff0000"/>
<rect x="848" y="186" width="1" height="20" fill="#ff0000"/>
<rect x="847" y="187" width="3" height="16" fill="#ff0000"/>
<rect x="852" y="175" width="1" height="33" fill="#00ff7f"/>
<rect x="851" y="187" width="3" height="17" fill="#00ff7f"/>
<rect x="856" y="143" width="1" height="63" fill="#ff0000"/>
<rect x="855" y="152" width="3" height="52" fill="#ff0000"/>
<rect x="860" y="136" width="1" height="21" fill="#00ff7f"/>
<rect x="859" y="152" width="3" height="5" fill="#00ff7f"/>
<rect x="864" y="134" width="1" height="30" fill="#ff0000"/>
<rect x="863" y="154" width="3" height="3" fill="#ff0000"/>
<rect x="868" y="147" width="1" height="30" fill="#00ff7f"/>
<rect x="867" y="153" width="3" height="20" fill="#00ff7f"/>
<rect x="872" y="165" width="1" height="16" fill="#ff0000"/>
<rect x="871" y="165" width="3" height="8" fill="#ff0000"/>
<rect x="876" y="162" width="1" height="33" fill="#00ff7f"/>
<rect x="875" y="166" width="3" height="6" fill="#00ff7f"/>
<rect x="880" y="157" width="1" height="31" fill="#00ff7f"/>
<rect x="879" y="171" width="3" height="16" fill="#00ff7f"/>
<rect x="884" y="169" width="1" height="26" fill="#ff0000"/>
<rect x="883" y="176" width="3" height="11" fill="#ff0000"/>
<rect x="888" y="163" width="1" height="19" fill="#ff0000"/>
<rect x="887" y="168" width="3" height="10" fill="#ff0000"/>
<rect x="892" y="160" width="1" height="22" fill="#00ff7f"/>
<rect x="891" y="167" width="3" height="4" fill="#00ff7f"/>
<rect x="896" y="166" width="1" height="15" fill="#00ff7f"/>
<rect x="895" y="170" width="3" height="10" fill="#00ff7f"/>
<rect x="900" y="173" width="1" height="42" fill="#00ff7f"/>
<rect x="899" y="179" width="3" height="33" fill="#00ff7f"/>
<rect x="904" y="192" width="1" height="26" fill="#ff0000"/>
<rect x="903" y="195" width="3" height="17" fill="#ff0000"/>
<rect x="908" y="190" width="1" height="16" fill="#00ff7f"/>
<rect x="907" y="196" width="3" height="9" fill="#00ff7f"/>
<rect x="912" y="194" width="1" height="20" fill="#00ff7f"/>
<rect x="911" y="204" width="3" height="3" fill="#00ff7f"/>
<rect x="916" y="188" width="1" height="21" fill="#ff0000"/>
<rect x="915" y="192" width="3" height="4" fill="#ff0000"/>
<rect x="920" y="166" width="1" height="28" fill="#ff0000"/>
<rect x="919" y="168" width="3" height="25" fill="#ff0000"/>
<rect x="924" y="136" width="1" height="34" fill="#ff0000"/>
<rect x="923" y="149" width="3" height="19" fill="#ff0000"/>
<rect x="928" y="147" width="1" height="37" fill="#00ff7f"/>
<rect x="927" y="149" width="3" height="30" fill="#00ff7f"/>
<rect x="932" y="177" width="1" height="22" fill="#00ff7f"/>
<rect x="931" y="178" width="3" height="18" fill="#00ff7f"/>
<rect x="936" y="190" width="1" height="18" fill="#00ff7f"/>
<rect x="935" y="195" width="3" height="10" fill="#00ff7f"/>
<rect x="940" y="198" width="1" height="28" fill="#00ff7f"/>
<rect x="939" y="203" width="3" height="14" fill="#00ff7f"/>
<rect x="944" y="188" width="1" height="29" fill="#ff0000"/>
<rect x="943" y="193" width="3" height="24" fill="#ff0000"/>
<rect x="948" y="146" width="1" height="60" fill="#ff0000"/>
<rect x="947" y="191" width="3" height="4" fill="#ff0000"/>
<rect x="952" y="171" width="1" height="46" fill="#00ff7f"/>
<rect x="951" y="191" width="3" height="24" fill="#00ff7f"/>
<rect x="956" y="200" width="1" height="20" fill="#ff0000"/>
<rect x="955" y="214" width="3" height="2" fill="#ff0000"/>
<rect x="960" y="206" width="1" height="39" fill="#ff0000"/>
<rect x="959" y="211" width="3" height="4" fill="#ff0000"/>
<rect x="964" y="192" width="1" height="21" fill="#ff0000"/>
<rect x="963" y="193" width="3" height="19" fill="#ff0000"/>
<rect x="968" y="183" width="1" height="19" fill="#ff0000"/>
<rect x="967" y="189" width="3" height="5" fill="#ff0000"/>
<rect x="972" y="186" width="1" height="25" fill="#00ff7f"/>
<rect x="971" y="189" width="3" height="3" fill="#00ff7f"/>
<rect x="976" y="176" width="1" height="30" fill="#00ff7f"/>
<rect x="975" y="191" width="3" height="10" fill="#00ff7f"/>
<rect x="980" y="197" width="1" height="16" fill="#00ff7f"/>
<rect x="979" y="200" width="3" height="13" fill="#00ff7f"/>
<rect x="984" y="63" width="1" height="151" fill="#ff0000"/>
<rect x="983" y="81" width="3" height="132" fill="#ff0000"/>
<rect x="988" y="80" width="1" height="22" fill="#00ff7f"/>
<rect x="987" y="81" width="3" height="16" fill="#00ff7f"/>
</g>
</g>
<g shape-rendering="crispEdges" fill="#ff0000">
<rect x="4" y="581" width="1" height="1"/>
<rect x="5" y="581" width="1" height="1"/>
<rect x="6" y="581" width="1" height="1"/>
<rect x="10" y="582" width="1" height="1"/>
<rect x="11" y="582" width="1" height="1"/>
<rect x="12" y="582" width="1" height="1"/>
<rect x="16" y="584" width="1" height="1"/>
<rect x="17" y="585" width="1" height="1"/>
<rect x="18" y="585" width="1" height="1"/>
<rect x="22" y="588" width="1" height="1"/>
<rect x="23" y="588" width="1" height="1"/>
<rect x="24" y="589" width="1" height="1"/>
<rect x="28" y="591" width="1" height="1"/>
<rect x="29" y="592" width="1" height="1"/>
<rect x="30" y="592" width="1" height="1"/>
<rect x="34" y="596" width="1" height="1"/>
<rect x="35" y="596" width="1" height="1"/>
<rect x="36" y="597" width="1" height="1"/>
<rect x="40" y="601" width="1" height="1"/>
<rect x="41" y="602" width="1" height="1"/>
<rect x="42" y="602" width="1" height="1"/>
<rect x="46" y="606" width="1" height="1"/>
<rect x="47" y="606" width="1" height="1"/>
<rect x="48" y="607" width="1" height="1"/>
<rect x="52" y="611" width="1" height="1"/>
<rect x="53" y="612" width="1" height="1"/>
<rect x="54" y="612" width="1" height="1"/>
<rect x="58" y="615" width="1" height="1"/>
<rect x="59" y="616" width="1" height="1"/>
<rect x="60" y="616" width="1" height="1"/>
<rect x="64" y="617" width="1" height="1"/>
<rect x="65" y="618" width="1" height="1"/>
<rect x="66" y="618" width="1" height="1"/>
<rect x="70" y="619" width="1" height="1"/>
<rect x="71" y="620" width="1" height="1"/>
<rect x="72" y="620" width="1" height="1"/>
<rect x="76" y="620" width="1" height="1"/>
<rect x="77" y="620" width="1" height="1"/>
<rect x="78" y="620" width="1" height="1"/>
<rect x="82" y="619" width="1" height="1"/>
<rect x="83" y="619" width="1" height="1"/>
<rect x="84" y="619" width="1" height="1"/>
<rect x="88" y="618" width="1" height="1"/>
<rect x="89" y="618" width="1" height="1"/>
<rect x="90" y="617" width="1" height="1"/>
<rect x="94" y="616" width="1" height="1"/>
<rect x="95" y="615" width="1" height="1"/>
<rect x="96" y="615" width="1" height="1"/>
<rect x="100" y="613" width="1" height="1"/>
<rect x="101" y="612" width="1" height="1"/>
<rect x="102" y="612" width="1" height="1"/>
<rect x="106" y="609" width="1" height="1"/>
<rect x="107" y="609" width="1" height="1"/>
<rect x="108" y="608" width="1" height="1"/>
<rect x="112" y="605" width="1" height="1"/>
<rect x="113" y="604" width="1" height="1"/>
<rect x="114" y="604" width="1" height="1"/>
<rect x="118" y="601" width="1" height="1"/>
<rect x="119" y="600" width="1" height="1"/>
<rect x="120" y="599" width="1" height="1"/>
<rect x="124" y="596" width="1" height="1"/>
<rect x="125" y="595" width="1" height="1"/>
<rect x="126" y="594" width="1" height="1"/>
<rect x="130" y="590" width="1" height="1"/>
<rect x="131" y="589" width="1" height="1"/>
<rect x="132" y="589" width="1" height="1"/>
<rect x="136" y="585" width="1" height="1"/>
<rect x="137" y="584" width="1" height="1"/>
<rect x="138" y="584" width="1" height="1"/>
<rect x="142" y="581" width="1" height="1"/>
<rect x="143" y="580" width="1" height="1"/>
<rect x="144" y="580" width="1" height="1"/>
<rect x="148" y="577" width="1" height="1"/>
<rect x="149" y="577" width="1" height="1"/>
<rect x="150" y="576" width="1" height="1"/>
<rect x="154" y="575" width="1" height="1"/>
<rect x="155" y="575" width="1" height="1"/>
<rect x="156" y="574" width="1" height="1"/>
<rect x="160" y="573" width="1" height="1"/>
<rect x="161" y="573" width="1" height="1"/>
<rect x="162" y="573" width="1" height="1"/>
<rect x="166" y="572" width="1" height="1"/>
<rect x="167" y="572" width="1" height="1"/>
<rect x="168" y="572" width="1" height="1"/>
<rect x="172" y="571" width="1" height="1"/>
<rect x="173" y="571" width="1" height="1"/>
<rect x="174" y="570" width="1" height="1"/>
<rect x="178" y="568" width="1" height="1"/>
<rect x="179" y="568" width="1" height="1"/>
<rect x="180" y="567" width="1" height="1"/>
<rect x="184" y="566" width="1" height="1"/>
<rect x="185" y="565" width="1" height="1"/>
<rect x="186" y="565" width="1" height="1"/>
<rect x="190" y="563" width="1" height="1"/>
<rect x="191" y="563" width="1" height="1"/>
<rect x="192" y="562" width="1" height="1"/>
<rect x="196" y="561" width="1" height="1"/>
<rect x="197" y="561" width="1" height="1"/>
<rect x="198" y="561" width="1" height="1"/>
<rect x="202" y="559" width="1" height="1"/>
<rect x="203" y="559" width="1" height="1"/>
<rect x="204" y="559" width="1" height="1"/>
<rect x="208" y="558" width="1" height="1"/>
<rect x="209" y="558" width="1" height="1"/>
<rect x="210" y="558" width="1" height="1"/>
<rect x="214" y="557" width="1" height="1"/>
<rect x="215" y="557" width="1" height="1"/>
<rect x="216" y="557" width="1" height="1"/>
<rect x="220" y="556" width="1" height="1"/>
<rect x="221" y="556" width="1" height="1"/>
<rect x="222" y="556" width="1" height="1"/>
<rect x="226" y="556" width="1" height="1"/>
<rect x="227" y="556" width="1" height="1"/>
<rect x="228" y="556" width="1" height="1"/>
<rect x="232" y="555" width="1" height="1"/>
<rect x="233" y="554" width="1" height="1"/>
<rect x="234" y="554" width="1" height="1"/>
<rect x="238" y="554" width="1" height="1"/>
<rect x="239" y="554" width="1" height="1"/>
<rect x="240" y="554" width="1" height="1"/>
<rect x="244" y="554" width="1" height="1"/>
<rect x="245" y="554" width="1" height="1"/>
<rect x="246" y="554" width="1" height="1"/>
<rect x="250" y="554" width="1" height="1"/>
<rect x="251" y="554" width="1" height="1"/>
<rect x="252" y="554" width="1" height="1"/>
<rect x="256" y="555" width="1" height="1"/>
<rect x="257" y="555" width="1" height="1"/>
<rect x="258" y="555" width="1" height="1"/>
<rect x="262" y="555" width="1" height="1"/>
<rect x="263" y="555" width="1" height="1"/>
<rect x="264" y="556" width="1" height="1"/>
<rect x="268" y="556" width="1" height="1"/>
<rect x="269" y="556" width="1" height="1"/>
<rect x="270" y="557" width="1" height="1"/>
<rect x="274" y="558" width="1" height="1"/>
<rect x="275" y="558" width="1" height="1"/>
<rect x="276" y="558" width="1" height="1"/>
<rect x="280" y="559" width="1" height="1"/>
<rect x="281" y="559" width="1" height="1"/>
<rect x="282" y="559" width="1" height="1"/>
<rect x="286" y="560" width="1" height="1"/>
<rect x="287" y="561" width="1" height="1"/>
<rect x="288" y="562" width="1" height="1"/>
<rect x="292" y="563" width="1" height="1"/>
<rect x="293" y="563" width="1" height="1"/>
<rect x="294" y="563" width="1" height="1"/>
<rect x="298" y="564" width="1" height="1"/>
<rect x="299" y="565" width="1" height="1"/>
<rect x="300" y="565" width="1" height="1"/>
<rect x="304" y="566" width="1" height="1"/>
<rect x="305" y="566" width="1" height="1"/>
<rect x="306" y="566" width="1" height="1"/>
<rect x="310" y="566" width="1" height="1"/>
<rect x="311" y="567" width="1" height="1"/>
<rect x="312" y="567" width="1" height="1"/>
<rect x="316" y="568" width="1" height="1"/>
<rect x="317" y="568" width="1" height="1"/>
<rect x="318" y="568" width="1" height="1"/>
<rect x="322" y="568" width="1" height="1"/>
<rect x="323" y="568" width="1" height="1"/>
<rect x="324" y="568" width="1" height="1"/>
<rect x="328" y="569" width="1" height="1"/>
<rect x="329" y="569" width="1" height="1"/>
<rect x="330" y="569" width="1" height="1"/>
<rect x="334" y="569" width="1" height="1"/>
<rect x="335" y="570" width="1" height="1"/>
<rect x="336" y="570" width="1" height="1"/>
<rect x="340" y="572" width="1" height="1"/>
<rect x="341" y="572" width="1" height="1"/>
<rect x="342" y="573" width="1" height="1"/>
<rect x="346" y="575" width="1" height="1"/>
<rect x="347" y="575" width="1" height="1"/>
<rect x="348" y="576" width="1" height="1"/>
<rect x="352" y="577" width="1" height="1"/>
<rect x="353" y="578" width="1" height="1"/>
<rect x="354" y="578" width="1" height="1"/>
<rect x="358" y="580" width="1" height="1"/>
<rect x="359" y="581" width="1" height="1"/>
<rect x="360" y="581" width="1" height="1"/>
<rect x="364" y="582" width="1" height="1"/>
<rect x="365" y="582" width="1" height="1"/>
<rect x="366" y="582" width="1" height="1"/>
<rect x="370" y="583" width="1" height="1"/>
<rect x="371" y="583" width="1" height="1"/>
<rect x="372" y="583" width="1" height="1"/>
<rect x="376" y="582" width="1" height="1"/>
<rect x="377" y="582" width="1" height="1"/>
<rect x="378" y="582" width="1" height="1"/>
<rect x="382" y="582" width="1" height="1"/>
<rect x="383" y="582" width="1" height="1"/>
<rect x="384" y="582" width="1" height="1"/>
<rect x="388" y="581" width="1" height="1"/>
<rect x="389" y="581" width="1" height="1"/>
<rect x="390" y="581" width="1" height="1"/>
<rect x="394" y="580" width="1" height="1"/>
<rect x="395" y="580" width="1" height="1"/>
<rect x="396" y="580" width="1" height="1"/>
<rect x="400" y="580" width="1" height="1"/>
<rect x="401" y="580" width="1" height="1"/>
<rect x="402" y="580" width="1" height="1"/>
<rect x="406" y="579" width="1" height="1"/>
<rect x="407" y="579" width="1" height="1"/>
<rect x="408" y="579" width="1" height="1"/>
<rect x="412" y="579" width="1" height="1"/>
<rect x="413" y="579" width="1" height="1"/>
<rect x="414" y="579" width="1" height="1"/>
<rect x="418" y="580" width="1" height="1"/>
<rect x="419" y="580" width="1" height="1"/>
<rect x="420" y="580" width="1" height="1"/>
<rect x="424" y="580" width="1" height="1"/>
<rect x="425" y="580" width="1" height="1"/>
<rect x="426" y="580" width="1" height="1"/>
<rect x="430" y="580" width="1" height="1"/>
<rect x="431" y="580" width="1" height="1"/>
<rect x="432" y="580" width="1" height="1"/>
<rect x="436" y="579" width="1" height="1"/>
<rect x="437" y="579" width="1" height="1"/>
<rect x="438" y="579" width="1" height="1"/>
<rect x="442" y="578" width="1" height="1"/>
<rect x="443" y="578" width="1" height="1"/>
<rect x="444" y="578" width="1" height="1"/>
<rect x="448" y="577" width="1" height="1"/>
<rect x="449" y="577" width="1" height="1"/>
<rect x="450" y="577" width="1" height="1"/>
<rect x="454" y="575" width="1" height="1"/>
<rect x="455" y="575" width="1" height="1"/>
<rect x="456" y="575" width="1" height="1"/>
<rect x="460" y="573" width="1" height="1"/>
<rect x="461" y="573" width="1" height="1"/>
<rect x="462" y="573" width="1" height="1"/>
<rect x="466" y="571" width="1" height="1"/>
<rect x="467" y="571" width="1" height="1"/>
<rect x="468" y="570" width="1" height="1"/>
<rect x="472" y="569" width="1" height="1"/>
<rect x="473" y="569" width="1" height="1"/>
<rect x="474" y="569" width="1" height="1"/>
<rect x="478" y="567" width="1" height="1"/>
<rect x="479" y="567" width="1" height="1"/>
<rect x="480" y="567" width="1" height="1"/>
<rect x="484" y="566" width="1" height="1"/>
<rect x="485" y="566" width="1" height="1"/>
<rect x="486" y="566" width="1" height="1"/>
<rect x="490" y="565" width="1" height="1"/>
<rect x="491" y="565" width="1" height="1"/>
<rect x="492" y="565" width="1" height="1"/>
<rect x="496" y="564" width="1" height="1"/>
<rect x="497" y="564" width="1" height="1"/>
<rect x="498" y="564" width="1" height="1"/>
<rect x="502" y="563" width="1" height="1"/>
<rect x="503" y="563" width="1" height="1"/>
<rect x="504" y="563" width="1" height="1"/>
<rect x="508" y="563" width="1" height="1"/>
<rect x="509" y="562" width="1" height="1"/>
<rect x="510" y="562" width="1" height="1"/>
<rect x="514" y="561" width="1" height="1"/>
<rect x="515" y="561" width="1" height="1"/>
<rect x="516" y="560" width="1" height="1"/>
<rect x="520" y="559" width="1" height="1"/>
<rect x="521" y="558" width="1" height="1"/>
<rect x="522" y="558" width="1" height="1"/>
<rect x="526" y="555" width="1" height="1"/>
<rect x="527" y="554" width="1" height="1"/>
<rect x="528" y="553" width="1" height="1"/>
<rect x="532" y="550" width="1" height="1"/>
<rect x="533" y="549" width="1" height="1"/>
<rect x="534" y="548" width="1" height="1"/>
<rect x="538" y="542" width="1" height="1"/>
<rect x="539" y="541" width="1" height="1"/>
<rect x="540" y="540" width="1" height="1"/>
<rect x="544" y="535" width="1" height="1"/>
<rect x="545" y="534" width="1" height="1"/>
<rect x="546" y="533" width="1" height="1"/>
<rect x="550" y="528" width="1" height="1"/>
<rect x="551" y="528" width="1" height="1"/>
<rect x="552" y="526" width="1" height="1"/>
<rect x="556" y="524" width="1" height="1"/>
<rect x="557" y="524" width="1" height="1"/>
<rect x="558" y="523" width="1" height="1"/>
<rect x="562" y="522" width="1" height="1"/>
<rect x="563" y="522" width="1" height="1"/>
<rect x="564" y="522" width="1" height="1"/>
<rect x="568" y="522" width="1" height="1"/>
<rect x="569" y="522" width="1" height="1"/>
<rect x="570" y="522" width="1" height="1"/>
<rect x="574" y="524" width="1" height="1"/>
<rect x="575" y="524" width="1" height="1"/>
<rect x="576" y="524" width="1" height="1"/>
<rect x="580" y="526" width="1" height="1"/>
<rect x="581" y="526" width="1" height="1"/>
<rect x="582" y="527" width="1" height="1"/>
<rect x="586" y="528" width="1" height="1"/>
<rect x="587" y="528" width="1" height="1"/>
<rect x="588" y="529" width="1" height="1"/>
<rect x="592" y="530" width="1" height="1"/>
<rect x="593" y="530" width="1" height="1"/>
<rect x="594" y="530" width="1" height="1"/>
<rect x="598" y="531" width="1" height="1"/>
<rect x="599" y="531" width="1" height="1"/>
<rect x="600" y="531" width="1" height="1"/>
<rect x="604" y="531" width="1" height="1"/>
<rect x="605" y="532" width="1" height="1"/>
<rect x="606" y="532" width="1" height="1"/>
<rect x="610" y="532" width="1" height="1"/>
<rect x="611" y="532" width="1" height="1"/>
<rect x="612" y="532" width="1" height="1"/>
<rect x="616" y="531" width="1" height="1"/>
<rect x="617" y="531" width="1" height="1"/>
<rect x="618" y="531" width="1" height="1"/>
<rect x="622" y="530" width="1" height="1"/>
<rect x="623" y="530" width="1" height="1"/>
<rect x="624" y="530" width="1" height="1"/>
<rect x="628" y="529" width="1" height="1"/>
<rect x="629" y="529" width="1" height="1"/>
<rect x="630" y="528" width="1" height="1"/>
<rect x="634" y="527" width="1" height="1"/>
<rect x="635" y="527" width="1" height="1"/>
<rect x="636" y="527" width="1" height="1"/>
<rect x="640" y="526" width="1" height="1"/>
<rect x="641" y="526" width="1" height="1"/>
<rect x="642" y="525" width="1" height="1"/>
<rect x="646" y="525" width="1" height="1"/>
<rect x="647" y="525" width="1" height="1"/>
<rect x="648" y="525" width="1" height="1"/>
<rect x="652" y="526" width="1" height="1"/>
<rect x="653" y="526" width="1" height="1"/>
<rect x="654" y="527" width="1" height="1"/>
<rect x="658" y="529" width="1" height="1"/>
<rect x="659" y="529" width="1" height="1"/>
<rect x="660" y="530" width="1" height="1"/>
<rect x="664" y="533" width="1" height="1"/>
<rect x="665" y="533" width="1" height="1"/>
<rect x="666" y="534" width="1" height="1"/>
<rect x="670" y="537" width="1" height="1"/>
<rect x="671" y="538" width="1" height="1"/>
<rect x="672" y="539" width="1" height="1"/>
<rect x="676" y="543" width="1" height="1"/>
<rect x="677" y="544" width="1" height="1"/>
<rect x="678" y="545" width="1" height="1"/>
<rect x="682" y="549" width="1" height="1"/>
<rect x="683" y="550" width="1" height="1"/>
<rect x="684" y="551" width="1" height="1"/>
<rect x="688" y="555" width="1" height="1"/>
<rect x="689" y="556" width="1" height="1"/>
<rect x="690" y="557" width="1" height="1"/>
<rect x="694" y="560" width="1" height="1"/>
<rect x="695" y="561" width="1" height="1"/>
<rect x="696" y="562" width="1" height="1"/>
<rect x="700" y="565" width="1" height="1"/>
<rect x="701" y="566" width="1" height="1"/>
<rect x="702" y="567" width="1" height="1"/>
<rect x="706" y="570" width="1" height="1"/>
<rect x="707" y="571" width="1" height="1"/>
<rect x="708" y="572" width="1" height="1"/>
<rect x="712" y="575" width="1" height="1"/>
<rect x="713" y="575" width="1" height="1"/>
<rect x="714" y="576" width="1" height="1"/>
<rect x="718" y="577" width="1" height="1"/>
<rect x="719" y="578" width="1" height="1"/>
<rect x="720" y="578" width="1" height="1"/>
<rect x="724" y="579" width="1" height="1"/>
<rect x="725" y="579" width="1" height="1"/>
<rect x="726" y="579" width="1" height="1"/>
<rect x="730" y="579" width="1" height="1"/>
<rect x="731" y="579" width="1" height="1"/>
<rect x="732" y="579" width="1" height="1"/>
<rect x="736" y="578" width="1" height="1"/>
<rect x="737" y="578" width="1" height="1"/>
<rect x="738" y="577" width="1" height="1"/>
<rect x="742" y="576" width="1" height="1"/>
<rect x="743" y="576" width="1" height="1"/>
<rect x="744" y="576" width="1" height="1"/>
<rect x="748" y="574" width="1" height="1"/>
<rect x="749" y="574" width="1" height="1"/>
<rect x="750" y="573" width="1" height="1"/>
<rect x="754" y="571" width="1" height="1"/>
<rect x="755" y="570" width="1" height="1"/>
<rect x="756" y="569" width="1" height="1"/>
<rect x="760" y="566" width="1" height="1"/>
<rect x="761" y="565" width="1" height="1"/>
<rect x="762" y="565" width="1" height="1"/>
<rect x="766" y="562" width="1" height="1"/>
<rect x="767" y="561" width="1" height="1"/>
<rect x="768" y="560" width="1" height="1"/>
<rect x="772" y="557" width="1" height="1"/>
<rect x="773" y="556" width="1" height="1"/>
<rect x="774" y="556" width="1" height="1"/>
<rect x="778" y="553" width="1" height="1"/>
<rect x="779" y="553" width="1" height="1"/>
<rect x="780" y="552" width="1" height="1"/>
<rect x="784" y="550" width="1" height="1"/>
<rect x="785" y="549" width="1" height="1"/>
<rect x="786" y="549" width="1" height="1"/>
<rect x="790" y="547" width="1" height="1"/>
<rect x="791" y="547" width="1" height="1"/>
<rect x="792" y="546" width="1" height="1"/>
<rect x="796" y="544" width="1" height="1"/>
<rect x="797" y="544" width="1" height="1"/>
<rect x="798" y="543" width="1" height="1"/>
<rect x="802" y="541" width="1" height="1"/>
<rect x="803" y="541" width="1" height="1"/>
<rect x="804" y="541" width="1" height="1"/>
<rect x="808" y="540" width="1" height="1"/>
<rect x="809" y="540" width="1" height="1"/>
<rect x="810" y="539" width="1" height="1"/>
<rect x="814" y="539" width="1" height="1"/>
<rect x="815" y="538" width="1" height="1"/>
<rect x="816" y="538" width="1" height="1"/>
<rect x="820" y="538" width="1" height="1"/>
<rect x="821" y="538" width="1" height="1"/>
<rect x="822" y="538" width="1" height="1"/>
<rect x="826" y="539" width="1" height="1"/>
<rect x="827" y="540" width="1" height="1"/>
<rect x="828" y="540" width="1" height="1"/>
<rect x="832" y="542" width="1" height="1"/>
<rect x="833" y="543" width="1" height="1"/>
<rect x="834" y="544" width="1" height="1"/>
<rect x="838" y="547" width="1" height="1"/>
<rect x="839" y="548" width="1" height="1"/>
<rect x="840" y="549" width="1" height="1"/>
<rect x="844" y="553" width="1" height="1"/>
<rect x="845" y="554" width="1" height="1"/>
<rect x="846" y="555" width="1" height="1"/>
<rect x="850" y="558" width="1" height="1"/>
<rect x="851" y="559" width="1" height="1"/>
<rect x="852" y="560" width="1" height="1"/>
<rect x="856" y="563" width="1" height="1"/>
<rect x="857" y="564" width="1" height="1"/>
<rect x="858" y="565" width="1" height="1"/>
<rect x="862" y="568" width="1" height="1"/>
<rect x="863" y="568" width="1" height="1"/>
<rect x="864" y="569" width="1" height="1"/>
<rect x="868" y="571" width="1" height="1"/>
<rect x="869" y="571" width="1" height="1"/>
<rect x="870" y="572" width="1" height="1"/>
<rect x="874" y="573" width="1" height="1"/>
<rect x="875" y="573" width="1" height="1"/>
<rect x="876" y="573" width="1" height="1"/>
<rect x="880" y="573" width="1" height="1"/>
<rect x="881" y="573" width="1" height="1"/>
<rect x="882" y="574" width="1" height="1"/>
<rect x="886" y="573" width="1" height="1"/>
<rect x="887" y="573" width="1" height="1"/>
<rect x="888" y="573" width="1" height="1"/>
<rect x="892" y="573" width="1" height="1"/>
<rect x="893" y="573" width="1" height="1"/>
<rect x="894" y="573" width="1" height="1"/>
<rect x="898" y="573" width="1" height="1"/>
<rect x="899" y="574" width="1" height="1"/>
<rect x="900" y="574" width="1" height="1"/>
<rect x="904" y="574" width="1" height="1"/>
<rect x="905" y="574" width="1" height="1"/>
<rect x="906" y="574" width="1" height="1"/>
<rect x="910" y="575" width="1" height="1"/>
<rect x="911" y="575" width="1" height="1"/>
<rect x="912" y="575" width="1" height="1"/>
<rect x="916" y="575" width="1" height="1"/>
<rect x="917" y="576" width="1" height="1"/>
<rect x="918" y="576" width="1" height="1"/>
<rect x="922" y="576" width="1" height="1"/>
<rect x="923" y="576" width="1" height="1"/>
<rect x="924" y="576" width="1" height="1"/>
<rect x="928" y="576" width="1" height="1"/>
<rect x="929" y="576" width="1" height="1"/>
<rect x="930" y="576" width="1" height="1"/>
<rect x="934" y="576" width="1" height="1"/>
<rect x="935" y="576" width="1" height="1"/>
<rect x="936" y="576" width="1" height="1"/>
<rect x="940" y="575" width="1" height="1"/>
<rect x="941" y="575" width="1" height="1"/>
<rect x="942" y="575" width="1" height="1"/>
<rect x="946" y="575" width="1" height="1"/>
<rect x="947" y="575" width="1" height="1"/>
<rect x="948" y="575" width="1" height="1"/>
<rect x="952" y="575" width="1" height="1"/>
<rect x="953" y="575" width="1" height="1"/>
<rect x="954" y="575" width="1" height="1"/>
<rect x="958" y="575" width="1" height="1"/>
<rect x="959" y="575" width="1" height="1"/>
<rect x="960" y="575" width="1" height="1"/>
<rect x="964" y="575" width="1" height="1"/>
<rect x="965" y="575" width="1" height="1"/>
<rect x="966" y="575" width="1" height="1"/>
<rect x="970" y="576" width="1" height="1"/>
<rect x="971" y="576" width="1" height="1"/>
<rect x="972" y="576" width="1" height="1"/>
<rect x="976" y="575" width="1" height="1"/>
<rect x="977" y="575" width="1" height="1"/>
<rect x="978" y="575" width="1" height="1"/>
<rect x="982" y="574" width="1" height="1"/>
<rect x="983" y="574" width="1" height="1"/>
<rect x="984" y="574" width="1" height="1"/>
</g>
<text transform="translate(1254 46) scale(0.905 1)" font-size="10.2" fill="#000" stroke="#000" stroke-width="0.22" >0.73415</text>
<text transform="translate(1254 79) scale(0.905 1)" font-size="10.2" fill="#000" stroke="#000" stroke-width="0.22" >0.73185</text>
<text transform="translate(1254 112) scale(0.905 1)" font-size="10.2" fill="#000" stroke="#000" stroke-width="0.22" >0.72950</text>
<text transform="translate(1254 145) scale(0.905 1)" font-size="10.2" fill="#000" stroke="#000" stroke-width="0.22" >0.72715</text>
<text transform="translate(1254 178) scale(0.905 1)" font-size="10.2" fill="#000" stroke="#000" stroke-width="0.22" >0.72480</text>
<text transform="translate(1254 211) scale(0.905 1)" font-size="10.2" fill="#000" stroke="#000" stroke-width="0.22" >0.72245</text>
<text transform="translate(1254 244) scale(0.905 1)" font-size="10.2" fill="#000" stroke="#000" stroke-width="0.22" >0.72010</text>
<text transform="translate(1254 277) scale(0.905 1)" font-size="10.2" fill="#000" stroke="#000" stroke-width="0.22" >0.71775</text>
<text transform="translate(1254 310) scale(0.905 1)" font-size="10.2" fill="#000" stroke="#000" stroke-width="0.22" >0.71545</text>
<text transform="translate(1254 343) scale(0.905 1)" font-size="10.2" fill="#000" stroke="#000" stroke-width="0.22" >0.71310</text>
<text transform="translate(1254 376) scale(0.905 1)" font-size="10.2" fill="#000" stroke="#000" stroke-width="0.22" >0.71075</text>
<text transform="translate(1254 409) scale(0.905 1)" font-size="10.2" fill="#000" stroke="#000" stroke-width="0.22" >0.70840</text>
<text transform="translate(1254 442) scale(0.905 1)" font-size="10.2" fill="#000" stroke="#000" stroke-width="0.22" >0.70605</text>
<text transform="translate(1254 475) scale(0.905 1)" font-size="10.2" fill="#000" stroke="#000" stroke-width="0.22" >0.70370</text>
<text transform="translate(1254 508) scale(0.905 1)" font-size="10.2" fill="#000" stroke="#000" stroke-width="0.22" >0.70135</text>
<rect x="1250" y="91" width="41" height="11" fill="#000" shape-rendering="crispEdges"/><rect x="1248" y="96" width="2" height="1" fill="#fff"/>
<text transform="translate(1254 100) scale(0.905 1)" font-size="10.2" fill="#fff" stroke="#fff" stroke-width="0.22" >0.73032</text>
<text transform="translate(1252 520) scale(0.905 1)" font-size="10.2" fill="#000" stroke="#000" stroke-width="0.22" >0.004089</text>
<text transform="translate(1252 571) scale(0.905 1)" font-size="10.2" fill="#000" stroke="#000" stroke-width="0.22" >0.00</text>
<clipPath id="cpa"><rect x="1249" y="600" width="42" height="40"/></clipPath><g clip-path="url(#cpa)">
<text transform="translate(1252 624) scale(0.905 1)" font-size="10.2" fill="#000" stroke="#000" stroke-width="0.22" >-0.004322</text>
</g>
<text transform="translate(3 640) scale(0.935 1)" font-size="10.2" fill="#000" stroke="#000" stroke-width="0.22" >3 Oct 2018</text>
<text transform="translate(67 640) scale(0.935 1)" font-size="10.2" fill="#000" stroke="#000" stroke-width="0.22" >5 Oct 22:00</text>
<text transform="translate(131 640) scale(0.935 1)" font-size="10.2" fill="#000" stroke="#000" stroke-width="0.22" >10 Oct 14:00</text>
<text transform="translate(195 640) scale(0.935 1)" font-size="10.2" fill="#000" stroke="#000" stroke-width="0.22" >15 Oct 07:00</text>
<text transform="translate(259 640) scale(0.935 1)" font-size="10.2" fill="#000" stroke="#000" stroke-width="0.22" >17 Oct 22:00</text>
<text transform="translate(323 640) scale(0.935 1)" font-size="10.2" fill="#000" stroke="#000" stroke-width="0.22" >22 Oct 15:00</text>
<text transform="translate(387 640) scale(0.935 1)" font-size="10.2" fill="#000" stroke="#000" stroke-width="0.22" >25 Oct 04:00</text>
<text transform="translate(451 640) scale(0.935 1)" font-size="10.2" fill="#000" stroke="#000" stroke-width="0.22" >29 Oct 23:00</text>
<text transform="translate(515 640) scale(0.935 1)" font-size="10.2" fill="#000" stroke="#000" stroke-width="0.22" >1 Nov 14:00</text>
<text transform="translate(579 640) scale(0.935 1)" font-size="10.2" fill="#000" stroke="#000" stroke-width="0.22" >6 Nov 04:00</text>
<text transform="translate(643 640) scale(0.935 1)" font-size="10.2" fill="#000" stroke="#000" stroke-width="0.22" >8 Nov 23:00</text>
<text transform="translate(707 640) scale(0.935 1)" font-size="10.2" fill="#000" stroke="#000" stroke-width="0.22" >13 Nov 15:00</text>
<text transform="translate(771 640) scale(0.935 1)" font-size="10.2" fill="#000" stroke="#000" stroke-width="0.22" >16 Nov 04:00</text>
<text transform="translate(835 640) scale(0.935 1)" font-size="10.2" fill="#000" stroke="#000" stroke-width="0.22" >20 Nov 23:00</text>
<text transform="translate(899 640) scale(0.935 1)" font-size="10.2" fill="#000" stroke="#000" stroke-width="0.22" >23 Nov 15:00</text>
<text transform="translate(963 640) scale(0.935 1)" font-size="10.2" fill="#000" stroke="#000" stroke-width="0.22" >28 Nov 04:00</text>
<text transform="translate(20 41) scale(0.95 1)" font-size="10.2" fill="#000" stroke="#000" stroke-width="0.22" >AUDUSD,H4</text>
<text transform="translate(81 41) scale(0.906 1)" font-size="10.2" fill="#000" stroke="#000" stroke-width="0.22" >0.73143 0.73146 0.73000 0.73032</text>
<path d="M6.9 40 L14.1 40 L10.5 35.7 Z" fill="#000"/>
<text transform="translate(7.6 522) scale(0.927 1)" font-size="10.2" fill="#000" stroke="#000" stroke-width="0.22" >MACD(12,26,9) 0.000635 -0.000389</text>
<text x="1129" y="225" font-size="16" font-weight="500" fill="#00ff00" letter-spacing="0.8">多空转折点</text>
</svg>
<div class="rp" style="left:7px;top:49px;width:52px;height:26px;border-bottom:none"></div>
<div class="rp" style="left:174px;top:49px;width:52px;height:26px;border-bottom:none"></div>
<div class="rp" style="left:7px;top:73px;width:109px;height:40px;background:linear-gradient(#e03030,#b00000)"></div>
<div class="rp" style="left:118px;top:73px;width:108px;height:40px;background:linear-gradient(#e03030,#b00000)"></div>
<div style="position:absolute;left:8px;top:50px;width:50px;height:24px;background:linear-gradient(#f74a4a,#e03030)"></div>
<div style="position:absolute;left:175px;top:50px;width:50px;height:24px;background:linear-gradient(#f74a4a,#e03030)"></div>
<div style="position:absolute;left:11px;top:72px;width:44px;height:1px;background:#960000"></div><div style="position:absolute;left:11px;top:73px;width:44px;height:1px;background:#ee5555"></div>
<div style="position:absolute;left:178px;top:72px;width:44px;height:1px;background:#960000"></div><div style="position:absolute;left:178px;top:73px;width:44px;height:1px;background:#ee5555"></div>
<div class="rt" style="left:19px;top:54px;font-size:12.3px;line-height:15px;letter-spacing:-0.95px">SELL</div>
<div class="rt" style="left:187.5px;top:54px;font-size:12.6px;line-height:15px;letter-spacing:-0.8px">BUY</div>
<div class="rt" style="left:26.5px;top:93px;font-size:12.2px;line-height:13px;font-weight:bold;letter-spacing:0.2px">0.73</div>
<div class="rt" style="left:136.5px;top:93px;font-size:12.2px;line-height:13px;font-weight:bold;letter-spacing:0.2px">0.73</div>
<div class="rt big" style="left:54.5px">03</div>
<div class="rt big" style="left:165px">05</div>
<div class="rt" style="left:94px;top:77.5px;font-size:11.5px;line-height:13px;font-weight:bold">2</div>
<div class="rt" style="left:205px;top:77.5px;font-size:11.5px;line-height:13px;font-weight:bold">1</div>
<div id="spin"><div class="sb" style="left:0"></div><div class="sb" style="left:89px"></div>
<div style="position:absolute;left:6.5px;top:8.3px;width:0;height:0;border-left:3px solid transparent;border-right:3px solid transparent;border-top:3.5px solid #4a62c4"></div>
<div style="position:absolute;left:95.3px;top:7.8px;width:0;height:0;border-left:3px solid transparent;border-right:3px solid transparent;border-bottom:3.5px solid #4a62c4"></div>
<div style="position:absolute;right:24px;top:3px;font-size:12px;line-height:14px;color:#000">3.00</div></div>
<div id="bot"></div><div id="botw"></div><div id="botline"></div><div id="bots"></div>
<div id="atab"></div><div id="ledge2"></div><div id="rgut"></div>
<svg width="1293" height="673" viewBox="0 0 1293 673" style="position:absolute;left:0;top:0"><text x="12.22" y="17" font-size="10.2" fill="#1c1c1c" textLength="13.37" lengthAdjust="spacingAndGlyphs">M1</text><text x="39.81" y="17" font-size="10.2" fill="#1c1c1c" textLength="13.92" lengthAdjust="spacingAndGlyphs">M5</text><text x="65.63" y="17" font-size="10.2" fill="#1c1c1c" textLength="19.45" lengthAdjust="spacingAndGlyphs">M15</text><text x="93.84" y="17" font-size="10.2" fill="#1c1c1c" textLength="18.83" lengthAdjust="spacingAndGlyphs">M30</text><text x="124.57" y="17" font-size="10.2" fill="#1c1c1c" textLength="13.32" lengthAdjust="spacingAndGlyphs">H1</text><text x="151.69" y="17" font-size="10.2" fill="#1c1c1c" textLength="13.64" lengthAdjust="spacingAndGlyphs">H4</text><text x="180.88" y="17" font-size="10.2" fill="#1c1c1c" textLength="13.03" lengthAdjust="spacingAndGlyphs">D1</text><text x="208.78" y="17" font-size="10.2" fill="#1c1c1c" textLength="15.28" lengthAdjust="spacingAndGlyphs">W1</text><text x="234.77" y="17" font-size="10.2" fill="#1c1c1c" textLength="16.44" lengthAdjust="spacingAndGlyphs">MN</text><text x="16.60" y="665" font-size="12.6" fill="#737373" textLength="68.55" lengthAdjust="spacingAndGlyphs">EURUSD,H1</text><text x="106.37" y="665" font-size="12.6" fill="#737373" textLength="80.18" lengthAdjust="spacingAndGlyphs">USDCHF,Daily</text><text x="207.60" y="665" font-size="12.6" fill="#737373" textLength="70.06" lengthAdjust="spacingAndGlyphs">USDCAD,H4</text><text x="300.18" y="665" font-size="12.6" fill="#000" textLength="70.52" lengthAdjust="spacingAndGlyphs">AUDUSD,H4</text><text x="390.31" y="665" font-size="12.6" fill="#737373" textLength="71.85" lengthAdjust="spacingAndGlyphs">USDCNH,H1</text></svg>
<div class="vs" style="left:97px"></div><div class="vs" style="left:197px"></div><div class="vs" style="left:473px"></div>
<div class="arr" style="left:1260px;border-right:4px solid #a0a0a0"></div>
<div class="arr" style="left:1280px;border-left:4px solid #a0a0a0"></div>
</body></html>
